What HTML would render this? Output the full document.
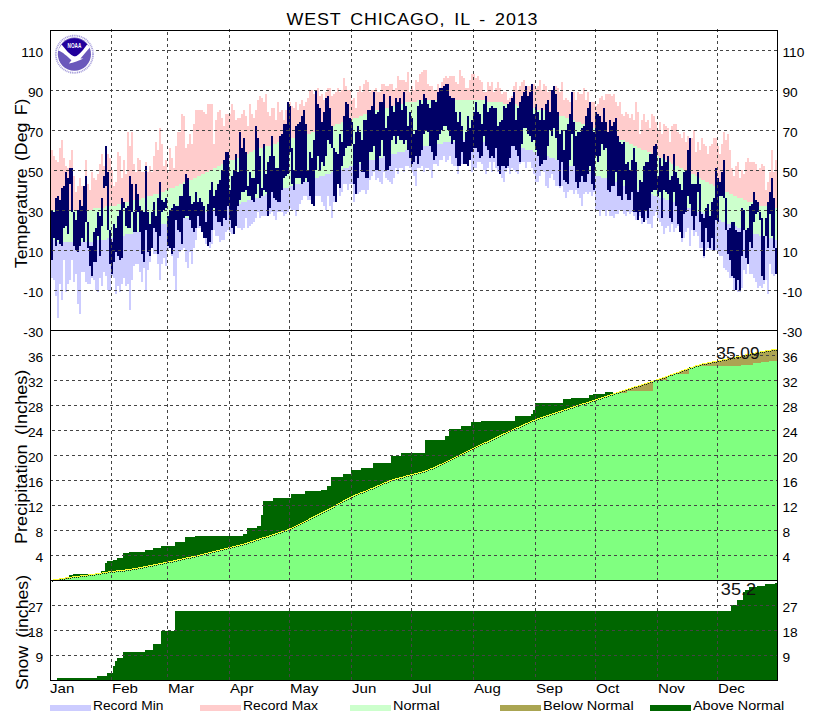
<!DOCTYPE html>
<html><head><meta charset="utf-8"><style>
html,body{margin:0;padding:0;background:#fff;width:827px;height:720px;overflow:hidden}
svg{position:absolute;left:0;top:0;display:block}
text{font-family:"Liberation Sans",sans-serif}
</style></head><body>
<svg width="827" height="720" viewBox="0 0 827 720">
<rect width="827" height="720" fill="#fff"/>
<path d="M51,150h2V210h-2ZM53,156h2V210h-2ZM55,160h2V210h-2ZM57,162h2V210h-2ZM59,148h2V210h-2ZM61,140h2V210h-2ZM63,158h2V210h-2ZM65,166h2V210h-2ZM67,168h2V210h-2ZM69,160h2V210h-2ZM71,150h2V210h-2ZM73,176h2V210h-2ZM75,192h2V210h-2ZM77,186h2V210h-2ZM79,178h2V210h-2ZM81,186h2V210h-2ZM83,186h2V210h-2ZM85,160h2V210h-2ZM87,184h2V210h-2ZM89,190h2V210h-2ZM91,172h2V210h-2ZM93,178h2V208h-2ZM95,180h2V208h-2ZM97,174h2V208h-2ZM99,164h2V208h-2ZM101,154h2V208h-2ZM103,166h2V208h-2ZM105,150h2V206h-2ZM107,154h2V206h-2ZM109,158h2V206h-2ZM111,170h2V206h-2ZM113,186h2V206h-2ZM115,182h2V206h-2ZM117,152h2V204h-2ZM119,156h2V204h-2ZM121,178h2V204h-2ZM123,160h2V204h-2ZM125,174h2V202h-2ZM127,132h2V202h-2ZM129,146h2V202h-2ZM131,132h2V202h-2ZM133,164h2V200h-2ZM135,172h2V200h-2ZM137,158h2V200h-2ZM139,160h2V200h-2ZM141,172h2V198h-2ZM143,172h2V198h-2ZM145,162h2V198h-2ZM147,172h2V196h-2ZM149,166h2V196h-2ZM151,172h2V196h-2ZM153,156h2V194h-2ZM155,142h2V194h-2ZM157,150h2V194h-2ZM159,128h2V192h-2ZM161,144h2V192h-2ZM163,166h2V192h-2ZM165,160h2V190h-2ZM167,172h2V190h-2ZM169,148h2V188h-2ZM171,158h2V188h-2ZM173,168h2V188h-2ZM175,146h2V186h-2ZM177,132h2V186h-2ZM179,132h2V184h-2ZM181,114h2V184h-2ZM183,116h2V182h-2ZM185,148h2V182h-2ZM187,144h2V180h-2ZM189,134h2V180h-2ZM191,144h2V180h-2ZM193,124h2V178h-2ZM195,110h2V178h-2ZM197,110h2V176h-2ZM199,110h2V176h-2ZM201,110h2V174h-2ZM203,112h2V174h-2ZM205,114h2V172h-2ZM207,104h2V172h-2ZM209,104h2V170h-2ZM211,104h2V170h-2ZM213,144h2V168h-2ZM215,120h2V168h-2ZM217,112h2V166h-2ZM219,110h2V166h-2ZM221,118h2V164h-2ZM223,126h2V164h-2ZM225,114h2V162h-2ZM227,114h2V162h-2ZM229,114h2V160h-2ZM231,104h2V160h-2ZM233,110h2V160h-2ZM235,120h2V158h-2ZM237,118h2V158h-2ZM239,118h2V156h-2ZM241,114h2V156h-2ZM243,110h2V154h-2ZM245,116h2V154h-2ZM247,126h2V154h-2ZM249,104h2V152h-2ZM251,114h2V152h-2ZM253,118h2V150h-2ZM255,110h2V150h-2ZM257,100h2V150h-2ZM259,96h2V148h-2ZM261,98h2V148h-2ZM263,102h2V148h-2ZM265,94h2V146h-2ZM267,112h2V146h-2ZM269,116h2V146h-2ZM271,108h2V144h-2ZM273,108h2V144h-2ZM275,120h2V144h-2ZM277,102h2V142h-2ZM279,112h2V142h-2ZM281,110h2V142h-2ZM283,120h2V140h-2ZM285,110h2V140h-2ZM287,102h2V140h-2ZM289,102h2V140h-2ZM291,106h2V138h-2ZM293,108h2V138h-2ZM295,102h2V138h-2ZM297,110h2V136h-2ZM299,104h2V136h-2ZM301,100h2V136h-2ZM303,106h2V136h-2ZM305,102h2V134h-2ZM307,98h2V134h-2ZM309,90h2V134h-2ZM311,90h2V132h-2ZM313,94h2V132h-2ZM315,90h2V132h-2ZM317,88h2V130h-2ZM319,96h2V130h-2ZM321,94h2V130h-2ZM323,100h2V130h-2ZM325,92h2V128h-2ZM327,88h2V128h-2ZM329,88h2V128h-2ZM331,96h2V126h-2ZM333,94h2V126h-2ZM335,92h2V124h-2ZM337,88h2V124h-2ZM339,92h2V124h-2ZM341,90h2V122h-2ZM343,78h2V122h-2ZM345,86h2V122h-2ZM347,90h2V120h-2ZM349,90h2V120h-2ZM351,100h2V120h-2ZM353,98h2V118h-2ZM355,108h2V118h-2ZM357,92h2V118h-2ZM359,86h2V116h-2ZM361,92h2V116h-2ZM363,84h2V114h-2ZM365,80h2V114h-2ZM367,82h2V114h-2ZM369,92h2V112h-2ZM371,90h2V112h-2ZM373,90h2V112h-2ZM375,88h2V110h-2ZM377,92h2V110h-2ZM379,92h2V110h-2ZM381,84h2V108h-2ZM383,84h2V108h-2ZM385,86h2V108h-2ZM387,86h2V108h-2ZM389,84h2V106h-2ZM391,84h2V106h-2ZM393,90h2V106h-2ZM395,88h2V104h-2ZM397,76h2V104h-2ZM399,80h2V104h-2ZM401,80h2V104h-2ZM403,80h2V104h-2ZM405,82h2V102h-2ZM407,72h2V102h-2ZM409,92h2V102h-2ZM411,86h2V102h-2ZM413,90h2V102h-2ZM415,80h2V102h-2ZM417,82h2V100h-2ZM419,74h2V100h-2ZM421,72h2V100h-2ZM423,70h2V100h-2ZM425,70h2V100h-2ZM427,84h2V100h-2ZM429,86h2V100h-2ZM431,86h2V100h-2ZM433,90h2V100h-2ZM435,90h2V100h-2ZM437,84h2V100h-2ZM439,88h2V100h-2ZM441,82h2V100h-2ZM443,78h2V100h-2ZM445,76h2V100h-2ZM447,78h2V100h-2ZM449,76h2V100h-2ZM451,76h2V100h-2ZM453,76h2V100h-2ZM455,82h2V100h-2ZM457,84h2V100h-2ZM459,70h2V100h-2ZM461,76h2V100h-2ZM463,78h2V100h-2ZM465,88h2V100h-2ZM467,88h2V100h-2ZM469,80h2V100h-2ZM471,74h2V100h-2ZM473,74h2V100h-2ZM475,78h2V100h-2ZM477,76h2V100h-2ZM479,80h2V100h-2ZM481,82h2V100h-2ZM483,92h2V100h-2ZM485,92h2V102h-2ZM487,82h2V102h-2ZM489,86h2V102h-2ZM491,82h2V102h-2ZM493,92h2V102h-2ZM495,88h2V102h-2ZM497,82h2V102h-2ZM499,88h2V102h-2ZM501,94h2V102h-2ZM503,92h2V104h-2ZM505,92h2V104h-2ZM507,100h2V104h-2ZM509,98h2V104h-2ZM511,96h2V104h-2ZM513,86h2V104h-2ZM515,82h2V104h-2ZM517,90h2V106h-2ZM519,86h2V106h-2ZM521,82h2V106h-2ZM523,80h2V106h-2ZM525,86h2V106h-2ZM527,86h2V108h-2ZM529,86h2V108h-2ZM531,84h2V108h-2ZM533,84h2V108h-2ZM535,88h2V108h-2ZM537,86h2V110h-2ZM539,80h2V110h-2ZM541,90h2V110h-2ZM543,84h2V110h-2ZM545,86h2V112h-2ZM547,92h2V112h-2ZM549,90h2V112h-2ZM551,90h2V112h-2ZM553,86h2V114h-2ZM555,86h2V114h-2ZM557,88h2V114h-2ZM559,92h2V116h-2ZM561,82h2V116h-2ZM563,100h2V116h-2ZM565,98h2V118h-2ZM567,100h2V118h-2ZM569,102h2V118h-2ZM571,92h2V120h-2ZM573,92h2V120h-2ZM575,100h2V122h-2ZM577,92h2V122h-2ZM579,94h2V122h-2ZM581,94h2V124h-2ZM583,88h2V124h-2ZM585,100h2V124h-2ZM587,92h2V126h-2ZM589,102h2V126h-2ZM591,102h2V128h-2ZM593,102h2V128h-2ZM595,106h2V128h-2ZM597,104h2V130h-2ZM599,98h2V130h-2ZM601,96h2V132h-2ZM603,100h2V132h-2ZM605,94h2V134h-2ZM607,94h2V134h-2ZM609,94h2V134h-2ZM611,96h2V136h-2ZM613,94h2V136h-2ZM615,102h2V138h-2ZM617,106h2V138h-2ZM619,102h2V140h-2ZM621,114h2V140h-2ZM623,116h2V140h-2ZM625,112h2V142h-2ZM627,114h2V142h-2ZM629,118h2V144h-2ZM631,114h2V144h-2ZM633,120h2V146h-2ZM635,102h2V146h-2ZM637,112h2V148h-2ZM639,134h2V148h-2ZM641,120h2V150h-2ZM643,114h2V150h-2ZM645,122h2V150h-2ZM647,120h2V152h-2ZM649,128h2V152h-2ZM651,114h2V154h-2ZM653,116h2V154h-2ZM655,122h2V156h-2ZM657,130h2V156h-2ZM659,122h2V158h-2ZM661,134h2V158h-2ZM663,124h2V160h-2ZM665,126h2V160h-2ZM667,128h2V162h-2ZM669,142h2V162h-2ZM671,126h2V164h-2ZM673,124h2V164h-2ZM675,124h2V166h-2ZM677,132h2V166h-2ZM679,134h2V168h-2ZM681,138h2V168h-2ZM683,132h2V170h-2ZM685,142h2V170h-2ZM687,136h2V172h-2ZM689,138h2V172h-2ZM691,138h2V174h-2ZM693,130h2V174h-2ZM695,152h2V176h-2ZM697,142h2V176h-2ZM699,150h2V178h-2ZM701,138h2V180h-2ZM703,144h2V180h-2ZM705,146h2V182h-2ZM707,154h2V182h-2ZM709,146h2V184h-2ZM711,144h2V184h-2ZM713,138h2V186h-2ZM715,138h2V186h-2ZM717,146h2V188h-2ZM719,154h2V188h-2ZM721,144h2V190h-2ZM723,132h2V190h-2ZM725,140h2V192h-2ZM727,134h2V192h-2ZM729,150h2V194h-2ZM731,168h2V194h-2ZM733,176h2V196h-2ZM735,166h2V196h-2ZM737,162h2V198h-2ZM739,178h2V198h-2ZM741,170h2V198h-2ZM743,174h2V200h-2ZM745,162h2V200h-2ZM747,158h2V202h-2ZM749,162h2V202h-2ZM751,162h2V202h-2ZM753,162h2V204h-2ZM755,164h2V204h-2ZM757,170h2V204h-2ZM759,168h2V206h-2ZM761,164h2V206h-2ZM763,166h2V206h-2ZM765,190h2V206h-2ZM767,182h2V208h-2ZM769,172h2V208h-2ZM771,150h2V208h-2ZM773,172h2V208h-2ZM775,160h2V208h-2Z" fill="#ffcccc" shape-rendering="crispEdges"/>
<path d="M51,210h2V240h-2ZM53,210h2V240h-2ZM55,210h2V240h-2ZM57,210h2V242h-2ZM59,210h2V242h-2ZM61,210h2V242h-2ZM63,210h2V242h-2ZM65,210h2V242h-2ZM67,210h2V242h-2ZM69,210h2V242h-2ZM71,210h2V242h-2ZM73,210h2V242h-2ZM75,210h2V242h-2ZM77,210h2V242h-2ZM79,210h2V242h-2ZM81,210h2V242h-2ZM83,210h2V242h-2ZM85,210h2V242h-2ZM87,210h2V242h-2ZM89,210h2V242h-2ZM91,210h2V242h-2ZM93,208h2V242h-2ZM95,208h2V240h-2ZM97,208h2V240h-2ZM99,208h2V240h-2ZM101,208h2V240h-2ZM103,208h2V240h-2ZM105,206h2V240h-2ZM107,206h2V238h-2ZM109,206h2V238h-2ZM111,206h2V238h-2ZM113,206h2V238h-2ZM115,206h2V238h-2ZM117,204h2V236h-2ZM119,204h2V236h-2ZM121,204h2V236h-2ZM123,204h2V236h-2ZM125,202h2V234h-2ZM127,202h2V234h-2ZM129,202h2V234h-2ZM131,202h2V234h-2ZM133,200h2V232h-2ZM135,200h2V232h-2ZM137,200h2V232h-2ZM139,200h2V232h-2ZM141,198h2V230h-2ZM143,198h2V230h-2ZM145,198h2V230h-2ZM147,196h2V228h-2ZM149,196h2V228h-2ZM151,196h2V228h-2ZM153,194h2V228h-2ZM155,194h2V226h-2ZM157,194h2V226h-2ZM159,192h2V226h-2ZM161,192h2V224h-2ZM163,192h2V224h-2ZM165,190h2V224h-2ZM167,190h2V224h-2ZM169,188h2V222h-2ZM171,188h2V222h-2ZM173,188h2V222h-2ZM175,186h2V220h-2ZM177,186h2V220h-2ZM179,184h2V220h-2ZM181,184h2V220h-2ZM183,182h2V218h-2ZM185,182h2V218h-2ZM187,180h2V218h-2ZM189,180h2V218h-2ZM191,180h2V216h-2ZM193,178h2V216h-2ZM195,178h2V216h-2ZM197,176h2V214h-2ZM199,176h2V214h-2ZM201,174h2V214h-2ZM203,174h2V214h-2ZM205,172h2V212h-2ZM207,172h2V212h-2ZM209,170h2V212h-2ZM211,170h2V210h-2ZM213,168h2V210h-2ZM215,168h2V210h-2ZM217,166h2V210h-2ZM219,166h2V208h-2ZM221,164h2V208h-2ZM223,164h2V208h-2ZM225,162h2V208h-2ZM227,162h2V206h-2ZM229,160h2V206h-2ZM231,160h2V206h-2ZM233,160h2V204h-2ZM235,158h2V204h-2ZM237,158h2V204h-2ZM239,156h2V204h-2ZM241,156h2V202h-2ZM243,154h2V202h-2ZM245,154h2V202h-2ZM247,154h2V200h-2ZM249,152h2V200h-2ZM251,152h2V200h-2ZM253,150h2V198h-2ZM255,150h2V198h-2ZM257,150h2V198h-2ZM259,148h2V196h-2ZM261,148h2V196h-2ZM263,148h2V196h-2ZM265,146h2V194h-2ZM267,146h2V194h-2ZM269,146h2V194h-2ZM271,144h2V192h-2ZM273,144h2V192h-2ZM275,144h2V192h-2ZM277,142h2V190h-2ZM279,142h2V190h-2ZM281,142h2V190h-2ZM283,140h2V188h-2ZM285,140h2V188h-2ZM287,140h2V188h-2ZM289,140h2V186h-2ZM291,138h2V186h-2ZM293,138h2V186h-2ZM295,138h2V184h-2ZM297,136h2V184h-2ZM299,136h2V184h-2ZM301,136h2V182h-2ZM303,136h2V182h-2ZM305,134h2V182h-2ZM307,134h2V180h-2ZM309,134h2V180h-2ZM311,132h2V180h-2ZM313,132h2V178h-2ZM315,132h2V178h-2ZM317,130h2V178h-2ZM319,130h2V176h-2ZM321,130h2V176h-2ZM323,130h2V176h-2ZM325,128h2V174h-2ZM327,128h2V174h-2ZM329,128h2V174h-2ZM331,126h2V172h-2ZM333,126h2V172h-2ZM335,124h2V172h-2ZM337,124h2V170h-2ZM339,124h2V170h-2ZM341,122h2V170h-2ZM343,122h2V168h-2ZM345,122h2V168h-2ZM347,120h2V168h-2ZM349,120h2V166h-2ZM351,120h2V166h-2ZM353,118h2V166h-2ZM355,118h2V164h-2ZM357,118h2V164h-2ZM359,116h2V164h-2ZM361,116h2V164h-2ZM363,114h2V162h-2ZM365,114h2V162h-2ZM367,114h2V162h-2ZM369,112h2V160h-2ZM371,112h2V160h-2ZM373,112h2V160h-2ZM375,110h2V158h-2ZM377,110h2V158h-2ZM379,110h2V158h-2ZM381,108h2V158h-2ZM383,108h2V156h-2ZM385,108h2V156h-2ZM387,108h2V156h-2ZM389,106h2V154h-2ZM391,106h2V154h-2ZM393,106h2V154h-2ZM395,104h2V154h-2ZM397,104h2V152h-2ZM399,104h2V152h-2ZM401,104h2V152h-2ZM403,104h2V152h-2ZM405,102h2V150h-2ZM407,102h2V150h-2ZM409,102h2V150h-2ZM411,102h2V150h-2ZM413,102h2V148h-2ZM415,102h2V148h-2ZM417,100h2V148h-2ZM419,100h2V148h-2ZM421,100h2V146h-2ZM423,100h2V146h-2ZM425,100h2V146h-2ZM427,100h2V146h-2ZM429,100h2V146h-2ZM431,100h2V144h-2ZM433,100h2V144h-2ZM435,100h2V144h-2ZM437,100h2V144h-2ZM439,100h2V144h-2ZM441,100h2V144h-2ZM443,100h2V142h-2ZM445,100h2V142h-2ZM447,100h2V142h-2ZM449,100h2V142h-2ZM451,100h2V142h-2ZM453,100h2V142h-2ZM455,100h2V142h-2ZM457,100h2V142h-2ZM459,100h2V142h-2ZM461,100h2V140h-2ZM463,100h2V140h-2ZM465,100h2V140h-2ZM467,100h2V140h-2ZM469,100h2V140h-2ZM471,100h2V140h-2ZM473,100h2V140h-2ZM475,100h2V140h-2ZM477,100h2V140h-2ZM479,100h2V140h-2ZM481,100h2V140h-2ZM483,100h2V142h-2ZM485,102h2V142h-2ZM487,102h2V142h-2ZM489,102h2V142h-2ZM491,102h2V142h-2ZM493,102h2V142h-2ZM495,102h2V142h-2ZM497,102h2V142h-2ZM499,102h2V142h-2ZM501,102h2V144h-2ZM503,104h2V144h-2ZM505,104h2V144h-2ZM507,104h2V144h-2ZM509,104h2V144h-2ZM511,104h2V146h-2ZM513,104h2V146h-2ZM515,104h2V146h-2ZM517,106h2V146h-2ZM519,106h2V148h-2ZM521,106h2V148h-2ZM523,106h2V148h-2ZM525,106h2V150h-2ZM527,108h2V150h-2ZM529,108h2V150h-2ZM531,108h2V150h-2ZM533,108h2V152h-2ZM535,108h2V152h-2ZM537,110h2V152h-2ZM539,110h2V154h-2ZM541,110h2V154h-2ZM543,110h2V156h-2ZM545,112h2V156h-2ZM547,112h2V156h-2ZM549,112h2V158h-2ZM551,112h2V158h-2ZM553,114h2V158h-2ZM555,114h2V160h-2ZM557,114h2V160h-2ZM559,116h2V162h-2ZM561,116h2V162h-2ZM563,116h2V162h-2ZM565,118h2V164h-2ZM567,118h2V164h-2ZM569,118h2V166h-2ZM571,120h2V166h-2ZM573,120h2V166h-2ZM575,122h2V168h-2ZM577,122h2V168h-2ZM579,122h2V170h-2ZM581,124h2V170h-2ZM583,124h2V170h-2ZM585,124h2V172h-2ZM587,126h2V172h-2ZM589,126h2V172h-2ZM591,128h2V174h-2ZM593,128h2V174h-2ZM595,128h2V176h-2ZM597,130h2V176h-2ZM599,130h2V176h-2ZM601,132h2V178h-2ZM603,132h2V178h-2ZM605,134h2V178h-2ZM607,134h2V180h-2ZM609,134h2V180h-2ZM611,136h2V182h-2ZM613,136h2V182h-2ZM615,138h2V182h-2ZM617,138h2V184h-2ZM619,140h2V184h-2ZM621,140h2V184h-2ZM623,140h2V186h-2ZM625,142h2V186h-2ZM627,142h2V186h-2ZM629,144h2V188h-2ZM631,144h2V188h-2ZM633,146h2V188h-2ZM635,146h2V190h-2ZM637,148h2V190h-2ZM639,148h2V190h-2ZM641,150h2V192h-2ZM643,150h2V192h-2ZM645,150h2V192h-2ZM647,152h2V194h-2ZM649,152h2V194h-2ZM651,154h2V194h-2ZM653,154h2V196h-2ZM655,156h2V196h-2ZM657,156h2V196h-2ZM659,158h2V198h-2ZM661,158h2V198h-2ZM663,160h2V198h-2ZM665,160h2V200h-2ZM667,162h2V200h-2ZM669,162h2V200h-2ZM671,164h2V202h-2ZM673,164h2V202h-2ZM675,166h2V202h-2ZM677,166h2V204h-2ZM679,168h2V204h-2ZM681,168h2V204h-2ZM683,170h2V206h-2ZM685,170h2V206h-2ZM687,172h2V208h-2ZM689,172h2V208h-2ZM691,174h2V208h-2ZM693,174h2V210h-2ZM695,176h2V210h-2ZM697,176h2V212h-2ZM699,178h2V212h-2ZM701,180h2V212h-2ZM703,180h2V214h-2ZM705,182h2V214h-2ZM707,182h2V216h-2ZM709,184h2V216h-2ZM711,184h2V216h-2ZM713,186h2V218h-2ZM715,186h2V218h-2ZM717,188h2V220h-2ZM719,188h2V220h-2ZM721,190h2V222h-2ZM723,190h2V222h-2ZM725,192h2V222h-2ZM727,192h2V224h-2ZM729,194h2V224h-2ZM731,194h2V226h-2ZM733,196h2V226h-2ZM735,196h2V226h-2ZM737,198h2V228h-2ZM739,198h2V228h-2ZM741,198h2V228h-2ZM743,200h2V230h-2ZM745,200h2V230h-2ZM747,202h2V232h-2ZM749,202h2V232h-2ZM751,202h2V232h-2ZM753,204h2V234h-2ZM755,204h2V234h-2ZM757,204h2V234h-2ZM759,206h2V236h-2ZM761,206h2V236h-2ZM763,206h2V236h-2ZM765,206h2V236h-2ZM767,208h2V238h-2ZM769,208h2V238h-2ZM771,208h2V238h-2ZM773,208h2V238h-2ZM775,208h2V240h-2Z" fill="#ccffcc" shape-rendering="crispEdges"/>
<path d="M51,240h2V278h-2ZM53,240h2V280h-2ZM55,240h2V296h-2ZM57,242h2V318h-2ZM59,242h2V284h-2ZM61,242h2V300h-2ZM63,242h2V260h-2ZM65,242h2V292h-2ZM67,242h2V284h-2ZM69,242h2V280h-2ZM71,242h2V260h-2ZM73,242h2V282h-2ZM75,242h2V274h-2ZM77,242h2V304h-2ZM79,242h2V314h-2ZM81,242h2V272h-2ZM83,242h2V272h-2ZM85,242h2V282h-2ZM87,242h2V284h-2ZM89,242h2V284h-2ZM91,242h2V278h-2ZM93,242h2V280h-2ZM95,240h2V290h-2ZM97,240h2V292h-2ZM99,240h2V278h-2ZM101,240h2V286h-2ZM103,240h2V272h-2ZM105,240h2V276h-2ZM107,238h2V290h-2ZM109,238h2V290h-2ZM111,238h2V276h-2ZM113,238h2V278h-2ZM115,238h2V294h-2ZM117,236h2V286h-2ZM119,236h2V292h-2ZM121,236h2V284h-2ZM123,236h2V278h-2ZM125,234h2V286h-2ZM127,234h2V284h-2ZM129,234h2V310h-2ZM131,234h2V280h-2ZM133,232h2V266h-2ZM135,232h2V264h-2ZM137,232h2V264h-2ZM139,232h2V272h-2ZM141,230h2V282h-2ZM143,230h2V268h-2ZM145,230h2V290h-2ZM147,228h2V270h-2ZM149,228h2V262h-2ZM151,228h2V248h-2ZM153,228h2V254h-2ZM155,226h2V254h-2ZM157,226h2V264h-2ZM159,226h2V280h-2ZM161,224h2V264h-2ZM163,224h2V258h-2ZM165,224h2V266h-2ZM167,224h2V250h-2ZM169,222h2V248h-2ZM171,222h2V256h-2ZM173,222h2V276h-2ZM175,220h2V290h-2ZM177,220h2V258h-2ZM179,220h2V252h-2ZM181,220h2V250h-2ZM183,218h2V248h-2ZM185,218h2V262h-2ZM187,218h2V268h-2ZM189,218h2V252h-2ZM191,216h2V264h-2ZM193,216h2V248h-2ZM195,216h2V240h-2ZM197,214h2V228h-2ZM199,214h2V228h-2ZM201,214h2V230h-2ZM203,214h2V238h-2ZM205,212h2V244h-2ZM207,212h2V246h-2ZM209,212h2V248h-2ZM211,210h2V244h-2ZM213,210h2V230h-2ZM215,210h2V236h-2ZM217,210h2V236h-2ZM219,208h2V242h-2ZM221,208h2V240h-2ZM223,208h2V240h-2ZM225,208h2V232h-2ZM227,206h2V230h-2ZM229,206h2V232h-2ZM231,206h2V234h-2ZM233,204h2V234h-2ZM235,204h2V226h-2ZM237,204h2V228h-2ZM239,204h2V228h-2ZM241,202h2V230h-2ZM243,202h2V228h-2ZM245,202h2V218h-2ZM247,200h2V228h-2ZM249,200h2V226h-2ZM251,200h2V224h-2ZM253,198h2V222h-2ZM255,198h2V218h-2ZM257,198h2V212h-2ZM259,196h2V218h-2ZM261,196h2V216h-2ZM263,196h2V216h-2ZM265,194h2V216h-2ZM267,194h2V216h-2ZM269,194h2V214h-2ZM271,192h2V212h-2ZM273,192h2V216h-2ZM275,192h2V220h-2ZM277,190h2V212h-2ZM279,190h2V212h-2ZM281,190h2V212h-2ZM283,188h2V216h-2ZM285,188h2V214h-2ZM287,188h2V212h-2ZM289,186h2V208h-2ZM291,186h2V210h-2ZM293,186h2V210h-2ZM295,184h2V216h-2ZM297,184h2V210h-2ZM299,184h2V204h-2ZM301,182h2V200h-2ZM303,182h2V196h-2ZM305,182h2V196h-2ZM307,180h2V200h-2ZM309,180h2V200h-2ZM311,180h2V202h-2ZM313,178h2V206h-2ZM315,178h2V196h-2ZM317,178h2V196h-2ZM319,176h2V196h-2ZM321,176h2V202h-2ZM323,176h2V206h-2ZM325,174h2V210h-2ZM327,174h2V196h-2ZM329,174h2V206h-2ZM331,172h2V218h-2ZM333,172h2V202h-2ZM335,172h2V202h-2ZM337,170h2V184h-2ZM339,170h2V196h-2ZM341,170h2V192h-2ZM343,168h2V184h-2ZM345,168h2V184h-2ZM347,168h2V190h-2ZM349,166h2V184h-2ZM351,166h2V184h-2ZM353,166h2V202h-2ZM355,164h2V194h-2ZM357,164h2V194h-2ZM359,164h2V192h-2ZM361,164h2V190h-2ZM363,162h2V190h-2ZM365,162h2V194h-2ZM367,162h2V190h-2ZM369,160h2V180h-2ZM371,160h2V176h-2ZM373,160h2V172h-2ZM375,158h2V180h-2ZM377,158h2V178h-2ZM379,158h2V182h-2ZM381,158h2V184h-2ZM383,156h2V172h-2ZM385,156h2V178h-2ZM387,156h2V180h-2ZM389,154h2V182h-2ZM391,154h2V184h-2ZM393,154h2V178h-2ZM395,154h2V168h-2ZM397,152h2V174h-2ZM399,152h2V168h-2ZM401,152h2V168h-2ZM403,152h2V172h-2ZM405,150h2V166h-2ZM407,150h2V166h-2ZM409,150h2V168h-2ZM411,150h2V172h-2ZM413,148h2V176h-2ZM415,148h2V186h-2ZM417,148h2V168h-2ZM419,148h2V168h-2ZM421,146h2V166h-2ZM423,146h2V172h-2ZM425,146h2V168h-2ZM427,146h2V168h-2ZM429,146h2V170h-2ZM431,144h2V178h-2ZM433,144h2V164h-2ZM435,144h2V164h-2ZM437,144h2V166h-2ZM439,144h2V160h-2ZM441,144h2V160h-2ZM443,142h2V156h-2ZM445,142h2V162h-2ZM447,142h2V160h-2ZM449,142h2V156h-2ZM451,142h2V164h-2ZM453,142h2V166h-2ZM455,142h2V166h-2ZM457,142h2V174h-2ZM459,142h2V166h-2ZM461,140h2V164h-2ZM463,140h2V164h-2ZM465,140h2V164h-2ZM467,140h2V166h-2ZM469,140h2V160h-2ZM471,140h2V172h-2ZM473,140h2V168h-2ZM475,140h2V168h-2ZM477,140h2V162h-2ZM479,140h2V162h-2ZM481,140h2V164h-2ZM483,142h2V170h-2ZM485,142h2V174h-2ZM487,142h2V168h-2ZM489,142h2V162h-2ZM491,142h2V172h-2ZM493,142h2V162h-2ZM495,142h2V168h-2ZM497,142h2V172h-2ZM499,142h2V174h-2ZM501,144h2V178h-2ZM503,144h2V182h-2ZM505,144h2V172h-2ZM507,144h2V168h-2ZM509,144h2V174h-2ZM511,146h2V168h-2ZM513,146h2V170h-2ZM515,146h2V172h-2ZM517,146h2V174h-2ZM519,148h2V164h-2ZM521,148h2V162h-2ZM523,148h2V162h-2ZM525,150h2V168h-2ZM527,150h2V162h-2ZM529,150h2V162h-2ZM531,150h2V168h-2ZM533,152h2V174h-2ZM535,152h2V182h-2ZM537,152h2V182h-2ZM539,154h2V176h-2ZM541,154h2V170h-2ZM543,156h2V172h-2ZM545,156h2V186h-2ZM547,156h2V188h-2ZM549,158h2V178h-2ZM551,158h2V174h-2ZM553,158h2V180h-2ZM555,160h2V186h-2ZM557,160h2V186h-2ZM559,162h2V188h-2ZM561,162h2V186h-2ZM563,162h2V192h-2ZM565,164h2V198h-2ZM567,164h2V192h-2ZM569,166h2V190h-2ZM571,166h2V190h-2ZM573,166h2V194h-2ZM575,168h2V190h-2ZM577,168h2V194h-2ZM579,170h2V198h-2ZM581,170h2V206h-2ZM583,170h2V194h-2ZM585,172h2V192h-2ZM587,172h2V194h-2ZM589,172h2V192h-2ZM591,174h2V196h-2ZM593,174h2V192h-2ZM595,176h2V210h-2ZM597,176h2V210h-2ZM599,176h2V216h-2ZM601,178h2V210h-2ZM603,178h2V210h-2ZM605,178h2V216h-2ZM607,180h2V210h-2ZM609,180h2V216h-2ZM611,182h2V216h-2ZM613,182h2V218h-2ZM615,182h2V214h-2ZM617,184h2V214h-2ZM619,184h2V210h-2ZM621,184h2V210h-2ZM623,186h2V214h-2ZM625,186h2V216h-2ZM627,186h2V212h-2ZM629,188h2V214h-2ZM631,188h2V212h-2ZM633,188h2V216h-2ZM635,190h2V220h-2ZM637,190h2V220h-2ZM639,190h2V216h-2ZM641,192h2V224h-2ZM643,192h2V222h-2ZM645,192h2V220h-2ZM647,194h2V224h-2ZM649,194h2V224h-2ZM651,194h2V228h-2ZM653,196h2V216h-2ZM655,196h2V212h-2ZM657,196h2V218h-2ZM659,198h2V222h-2ZM661,198h2V226h-2ZM663,198h2V234h-2ZM665,200h2V228h-2ZM667,200h2V226h-2ZM669,200h2V232h-2ZM671,202h2V224h-2ZM673,202h2V232h-2ZM675,202h2V228h-2ZM677,204h2V226h-2ZM679,204h2V232h-2ZM681,204h2V242h-2ZM683,206h2V238h-2ZM685,206h2V232h-2ZM687,208h2V228h-2ZM689,208h2V246h-2ZM691,208h2V230h-2ZM693,210h2V236h-2ZM695,210h2V232h-2ZM697,212h2V236h-2ZM699,212h2V248h-2ZM701,212h2V248h-2ZM703,214h2V258h-2ZM705,214h2V250h-2ZM707,216h2V248h-2ZM709,216h2V250h-2ZM711,216h2V250h-2ZM713,218h2V250h-2ZM715,218h2V250h-2ZM717,220h2V254h-2ZM719,220h2V256h-2ZM721,222h2V256h-2ZM723,222h2V268h-2ZM725,222h2V270h-2ZM727,224h2V272h-2ZM729,224h2V278h-2ZM731,226h2V278h-2ZM733,226h2V290h-2ZM735,226h2V290h-2ZM737,228h2V292h-2ZM739,228h2V292h-2ZM741,228h2V288h-2ZM743,230h2V270h-2ZM745,230h2V274h-2ZM747,232h2V264h-2ZM749,232h2V274h-2ZM751,232h2V274h-2ZM753,234h2V278h-2ZM755,234h2V282h-2ZM757,234h2V288h-2ZM759,236h2V286h-2ZM761,236h2V288h-2ZM763,236h2V284h-2ZM765,236h2V280h-2ZM767,238h2V294h-2ZM769,238h2V264h-2ZM771,238h2V274h-2ZM773,238h2V276h-2ZM775,240h2V274h-2Z" fill="#ccccff" shape-rendering="crispEdges"/>
<path d="M51,210h2V260h-2ZM53,212h2V238h-2ZM55,198h2V246h-2ZM57,196h2V240h-2ZM59,200h2V244h-2ZM61,188h2V246h-2ZM63,186h2V228h-2ZM65,172h2V226h-2ZM67,178h2V234h-2ZM69,168h2V184h-2ZM71,168h2V212h-2ZM73,212h2V246h-2ZM75,220h2V250h-2ZM77,210h2V252h-2ZM79,200h2V246h-2ZM81,206h2V238h-2ZM83,186h2V242h-2ZM85,176h2V222h-2ZM87,222h2V248h-2ZM89,246h2V266h-2ZM91,246h2V276h-2ZM93,232h2V262h-2ZM95,228h2V262h-2ZM97,212h2V236h-2ZM99,216h2V256h-2ZM101,198h2V226h-2ZM103,176h2V188h-2ZM105,146h2V186h-2ZM107,172h2V230h-2ZM109,230h2V264h-2ZM111,242h2V274h-2ZM113,224h2V262h-2ZM115,228h2V252h-2ZM117,216h2V256h-2ZM119,210h2V260h-2ZM121,198h2V258h-2ZM123,202h2V208h-2ZM125,208h2V226h-2ZM127,206h2V228h-2ZM129,176h2V228h-2ZM131,184h2V212h-2ZM133,212h2V232h-2ZM135,184h2V232h-2ZM137,194h2V212h-2ZM139,206h2V232h-2ZM141,210h2V254h-2ZM143,212h2V262h-2ZM145,166h2V230h-2ZM147,212h2V252h-2ZM149,224h2V256h-2ZM151,212h2V248h-2ZM153,202h2V228h-2ZM155,216h2V232h-2ZM157,198h2V254h-2ZM159,182h2V236h-2ZM161,200h2V212h-2ZM163,202h2V210h-2ZM165,198h2V208h-2ZM167,216h2V246h-2ZM169,210h2V248h-2ZM171,208h2V254h-2ZM173,204h2V248h-2ZM175,206h2V220h-2ZM177,206h2V230h-2ZM179,196h2V232h-2ZM181,196h2V244h-2ZM183,184h2V218h-2ZM185,174h2V216h-2ZM187,178h2V216h-2ZM189,196h2V220h-2ZM191,204h2V228h-2ZM193,202h2V232h-2ZM195,192h2V228h-2ZM197,202h2V216h-2ZM199,198h2V226h-2ZM201,202h2V232h-2ZM203,206h2V238h-2ZM205,222h2V238h-2ZM207,204h2V246h-2ZM209,190h2V242h-2ZM211,182h2V230h-2ZM213,196h2V208h-2ZM215,190h2V216h-2ZM217,184h2V222h-2ZM219,180h2V222h-2ZM221,170h2V226h-2ZM223,160h2V218h-2ZM225,152h2V220h-2ZM227,152h2V206h-2ZM229,190h2V220h-2ZM231,176h2V228h-2ZM233,170h2V234h-2ZM235,154h2V226h-2ZM237,172h2V206h-2ZM239,132h2V200h-2ZM241,148h2V192h-2ZM243,138h2V192h-2ZM245,152h2V190h-2ZM247,186h2V196h-2ZM249,172h2V196h-2ZM251,178h2V200h-2ZM253,178h2V202h-2ZM255,126h2V194h-2ZM257,138h2V184h-2ZM259,156h2V198h-2ZM261,188h2V196h-2ZM263,144h2V190h-2ZM265,174h2V192h-2ZM267,162h2V216h-2ZM269,156h2V208h-2ZM271,136h2V192h-2ZM273,156h2V198h-2ZM275,168h2V200h-2ZM277,168h2V202h-2ZM279,136h2V202h-2ZM281,134h2V190h-2ZM283,124h2V178h-2ZM285,124h2V176h-2ZM287,102h2V174h-2ZM289,106h2V152h-2ZM291,148h2V184h-2ZM293,170h2V190h-2ZM295,126h2V178h-2ZM297,124h2V178h-2ZM299,122h2V178h-2ZM301,116h2V184h-2ZM303,110h2V182h-2ZM305,124h2V178h-2ZM307,170h2V182h-2ZM309,152h2V196h-2ZM311,158h2V204h-2ZM313,140h2V206h-2ZM315,90h2V170h-2ZM317,104h2V156h-2ZM319,108h2V170h-2ZM321,122h2V162h-2ZM323,112h2V166h-2ZM325,98h2V156h-2ZM327,96h2V140h-2ZM329,108h2V144h-2ZM331,126h2V148h-2ZM333,148h2V196h-2ZM335,152h2V202h-2ZM337,154h2V184h-2ZM339,134h2V188h-2ZM341,142h2V166h-2ZM343,116h2V156h-2ZM345,102h2V148h-2ZM347,104h2V146h-2ZM349,118h2V146h-2ZM351,122h2V144h-2ZM353,144h2V184h-2ZM355,132h2V194h-2ZM357,126h2V178h-2ZM359,132h2V162h-2ZM361,140h2V172h-2ZM363,120h2V172h-2ZM365,120h2V178h-2ZM367,110h2V178h-2ZM369,110h2V152h-2ZM371,106h2V152h-2ZM373,92h2V146h-2ZM375,114h2V170h-2ZM377,112h2V170h-2ZM379,102h2V156h-2ZM381,102h2V140h-2ZM383,94h2V156h-2ZM385,128h2V170h-2ZM387,116h2V170h-2ZM389,96h2V166h-2ZM391,106h2V140h-2ZM393,112h2V136h-2ZM395,98h2V144h-2ZM397,102h2V136h-2ZM399,98h2V140h-2ZM401,110h2V140h-2ZM403,92h2V144h-2ZM405,106h2V140h-2ZM407,126h2V150h-2ZM409,112h2V158h-2ZM411,118h2V164h-2ZM413,134h2V162h-2ZM415,130h2V156h-2ZM417,106h2V164h-2ZM419,100h2V156h-2ZM421,104h2V150h-2ZM423,94h2V134h-2ZM425,98h2V130h-2ZM427,104h2V132h-2ZM429,108h2V146h-2ZM431,100h2V152h-2ZM433,100h2V160h-2ZM435,102h2V156h-2ZM437,92h2V140h-2ZM439,88h2V134h-2ZM441,88h2V130h-2ZM443,86h2V126h-2ZM445,84h2V126h-2ZM447,84h2V130h-2ZM449,96h2V136h-2ZM451,98h2V144h-2ZM453,98h2V140h-2ZM455,112h2V158h-2ZM457,122h2V166h-2ZM459,112h2V166h-2ZM461,126h2V152h-2ZM463,142h2V164h-2ZM465,132h2V164h-2ZM467,116h2V166h-2ZM469,128h2V160h-2ZM471,120h2V152h-2ZM473,112h2V148h-2ZM475,102h2V148h-2ZM477,112h2V152h-2ZM479,114h2V158h-2ZM481,124h2V156h-2ZM483,104h2V136h-2ZM485,96h2V146h-2ZM487,112h2V150h-2ZM489,108h2V158h-2ZM491,106h2V156h-2ZM493,108h2V158h-2ZM495,108h2V148h-2ZM497,126h2V166h-2ZM499,122h2V174h-2ZM501,120h2V166h-2ZM503,106h2V166h-2ZM505,108h2V168h-2ZM507,104h2V166h-2ZM509,102h2V158h-2ZM511,98h2V146h-2ZM513,92h2V146h-2ZM515,120h2V150h-2ZM517,108h2V156h-2ZM519,102h2V162h-2ZM521,96h2V144h-2ZM523,92h2V128h-2ZM525,86h2V128h-2ZM527,96h2V134h-2ZM529,92h2V136h-2ZM531,84h2V142h-2ZM533,114h2V140h-2ZM535,104h2V150h-2ZM537,112h2V156h-2ZM539,120h2V166h-2ZM541,108h2V164h-2ZM543,120h2V160h-2ZM545,104h2V160h-2ZM547,100h2V146h-2ZM549,112h2V130h-2ZM551,90h2V136h-2ZM553,86h2V128h-2ZM555,94h2V138h-2ZM557,112h2V160h-2ZM559,134h2V186h-2ZM561,130h2V162h-2ZM563,150h2V180h-2ZM565,130h2V182h-2ZM567,124h2V184h-2ZM569,114h2V160h-2ZM571,92h2V134h-2ZM573,122h2V166h-2ZM575,136h2V182h-2ZM577,132h2V188h-2ZM579,132h2V182h-2ZM581,128h2V176h-2ZM583,126h2V182h-2ZM585,116h2V182h-2ZM587,108h2V174h-2ZM589,102h2V166h-2ZM591,122h2V184h-2ZM593,132h2V190h-2ZM595,112h2V156h-2ZM597,114h2V162h-2ZM599,116h2V156h-2ZM601,122h2V144h-2ZM603,108h2V150h-2ZM605,122h2V148h-2ZM607,132h2V190h-2ZM609,120h2V192h-2ZM611,126h2V186h-2ZM613,122h2V186h-2ZM615,118h2V172h-2ZM617,136h2V196h-2ZM619,142h2V196h-2ZM621,144h2V200h-2ZM623,142h2V180h-2ZM625,164h2V194h-2ZM627,162h2V200h-2ZM629,170h2V200h-2ZM631,160h2V192h-2ZM633,148h2V212h-2ZM635,162h2V212h-2ZM637,192h2V220h-2ZM639,180h2V212h-2ZM641,182h2V218h-2ZM643,166h2V222h-2ZM645,162h2V210h-2ZM647,162h2V218h-2ZM649,154h2V208h-2ZM651,154h2V192h-2ZM653,146h2V190h-2ZM655,144h2V190h-2ZM657,176h2V196h-2ZM659,158h2V192h-2ZM661,166h2V218h-2ZM663,154h2V190h-2ZM665,162h2V192h-2ZM667,156h2V194h-2ZM669,180h2V218h-2ZM671,176h2V222h-2ZM673,154h2V192h-2ZM675,172h2V206h-2ZM677,178h2V224h-2ZM679,184h2V232h-2ZM681,190h2V238h-2ZM683,172h2V214h-2ZM685,170h2V212h-2ZM687,150h2V196h-2ZM689,138h2V204h-2ZM691,184h2V216h-2ZM693,184h2V230h-2ZM695,184h2V216h-2ZM697,172h2V192h-2ZM699,184h2V222h-2ZM701,214h2V242h-2ZM703,218h2V256h-2ZM705,208h2V228h-2ZM707,204h2V242h-2ZM709,216h2V248h-2ZM711,202h2V238h-2ZM713,198h2V250h-2ZM715,168h2V220h-2ZM717,178h2V222h-2ZM719,182h2V196h-2ZM721,172h2V196h-2ZM723,160h2V198h-2ZM725,198h2V230h-2ZM727,230h2V254h-2ZM729,228h2V260h-2ZM731,222h2V276h-2ZM733,222h2V278h-2ZM735,230h2V290h-2ZM737,232h2V280h-2ZM739,232h2V290h-2ZM741,208h2V256h-2ZM743,210h2V230h-2ZM745,230h2V258h-2ZM747,228h2V264h-2ZM749,206h2V242h-2ZM751,204h2V248h-2ZM753,192h2V222h-2ZM755,200h2V214h-2ZM757,202h2V212h-2ZM759,212h2V220h-2ZM761,218h2V276h-2ZM763,236h2V280h-2ZM765,218h2V236h-2ZM767,202h2V248h-2ZM769,192h2V214h-2ZM771,178h2V236h-2ZM773,198h2V248h-2ZM775,248h2V274h-2Z" fill="#000066" shape-rendering="crispEdges"/>
<path d="M50,580 L50,579.5 L61,579.5 L61,578.5 L69,578.5 L69,575.0 L73,575.0 L73,574.0 L101,574.0 L101,571.0 L105,571.0 L105,563.0 L107,563.0 L107,561.0 L113,561.0 L113,560.0 L117,560.0 L117,558.0 L123,558.0 L123,553.0 L129,553.0 L129,552.0 L145,552.0 L145,550.0 L153,550.0 L153,548.0 L161,548.0 L161,546.0 L175,546.0 L175,542.0 L185,542.0 L185,537.0 L195,537.0 L195,536.0 L243,536.0 L243,533.5 L247,533.5 L247,527.5 L257,527.5 L257,525.5 L261,525.5 L261,515.0 L263,515.0 L263,500.5 L273,500.5 L273,497.5 L291,497.5 L291,493.5 L305,493.5 L305,491.0 L321,491.0 L321,490.0 L327,490.0 L327,486.0 L331,486.0 L331,476.5 L343,476.5 L343,473.5 L351,473.5 L351,470.0 L361,470.0 L361,467.5 L373,467.5 L373,463.0 L391,463.0 L391,456.0 L401,456.0 L401,452.5 L425,452.5 L425,440.0 L445,440.0 L445,435.5 L449,435.5 L449,429.0 L461,429.0 L461,425.5 L471,425.5 L471,422.0 L481,422.0 L481,421.0 L515,421.0 L515,416.0 L531,416.0 L531,414.0 L533,414.0 L533,409.5 L535,409.5 L535,403.0 L563,403.0 L563,399.0 L571,399.0 L571,398.0 L585,398.0 L585,397.5 L589,397.5 L589,395.0 L593,395.0 L593,394.0 L605,394.0 L605,392.0 L613,392.0 L613,392.5 L627,392.5 L627,391.0 L637,391.0 L637,390.5 L653,390.5 L653,380.5 L655,380.5 L655,380.0 L667,380.0 L667,375.5 L673,375.5 L673,374.0 L689,374.0 L689,367.0 L697,367.0 L697,365.5 L741,365.5 L741,364.5 L753,364.5 L753,362.5 L761,362.5 L761,361.5 L769,361.5 L769,361.0 L777,361.0 L777,580 Z" fill="#006600" shape-rendering="crispEdges"/>
<path d="M50,580 L52,580.0 L52,579.5 L54,579.5 L54,579.0 L58,579.0 L58,578.5 L60,578.5 L60,578.0 L64,578.0 L64,577.5 L67,577.5 L67,577.0 L70,577.0 L70,576.5 L74,576.5 L74,576.0 L78,576.0 L78,575.5 L82,575.5 L82,575.0 L86,575.0 L86,574.5 L90,574.5 L90,574.0 L94,574.0 L94,573.5 L97,573.5 L97,573.0 L100,573.0 L100,572.5 L103,572.5 L103,572.0 L107,572.0 L107,571.5 L110,571.5 L110,571.0 L114,571.0 L114,570.5 L118,570.5 L118,570.0 L123,570.0 L123,569.5 L127,569.5 L127,569.0 L131,569.0 L131,568.5 L134,568.5 L134,568.0 L136,568.0 L136,567.5 L139,567.5 L139,567.0 L142,567.0 L142,566.5 L144,566.5 L144,566.0 L147,566.0 L147,565.5 L149,565.5 L149,565.0 L152,565.0 L152,564.5 L154,564.5 L154,564.0 L157,564.0 L157,563.5 L160,563.5 L160,563.0 L162,563.0 L162,562.5 L165,562.5 L165,562.0 L167,562.0 L167,561.5 L169,561.5 L169,561.0 L172,561.0 L172,560.5 L174,560.5 L174,560.0 L176,560.0 L176,559.5 L179,559.5 L179,559.0 L181,559.0 L181,558.5 L183,558.5 L183,558.0 L185,558.0 L185,557.5 L188,557.5 L188,557.0 L190,557.0 L190,556.5 L192,556.5 L192,556.0 L194,556.0 L194,555.5 L197,555.5 L197,555.0 L199,555.0 L199,554.5 L201,554.5 L201,554.0 L203,554.0 L203,553.5 L205,553.5 L205,553.0 L207,553.0 L207,552.5 L209,552.5 L209,552.0 L211,552.0 L211,551.5 L213,551.5 L213,551.0 L215,551.0 L215,550.5 L217,550.5 L217,550.0 L219,550.0 L219,549.5 L221,549.5 L221,549.0 L223,549.0 L223,548.5 L225,548.5 L225,548.0 L227,548.0 L227,547.5 L229,547.5 L229,547.0 L231,547.0 L231,546.5 L233,546.5 L233,546.0 L235,546.0 L235,545.5 L237,545.5 L237,545.0 L239,545.0 L239,544.5 L241,544.5 L241,544.0 L243,544.0 L243,543.5 L244,543.5 L244,543.0 L246,543.0 L246,542.5 L248,542.5 L248,542.0 L249,542.0 L249,541.5 L251,541.5 L251,541.0 L253,541.0 L253,540.5 L254,540.5 L254,540.0 L256,540.0 L256,539.5 L257,539.5 L257,539.0 L259,539.0 L259,538.5 L260,538.5 L260,538.0 L262,538.0 L262,537.5 L263,537.5 L263,537.0 L265,537.0 L265,536.5 L266,536.5 L266,536.0 L268,536.0 L268,535.5 L269,535.5 L269,535.0 L271,535.0 L271,534.5 L272,534.5 L272,534.0 L274,534.0 L274,533.5 L275,533.5 L275,533.0 L277,533.0 L277,532.5 L279,532.5 L279,532.0 L280,532.0 L280,531.5 L282,531.5 L282,531.0 L283,531.0 L283,530.5 L285,530.5 L285,530.0 L286,530.0 L286,529.5 L287,529.5 L287,529.0 L289,529.0 L289,528.5 L290,528.5 L290,528.0 L291,528.0 L291,527.5 L292,527.5 L292,527.0 L293,527.0 L293,526.5 L294,526.5 L294,526.0 L295,526.0 L295,525.5 L296,525.5 L296,525.0 L297,525.0 L297,524.5 L298,524.5 L298,524.0 L299,524.0 L299,523.5 L300,523.5 L300,523.0 L301,523.0 L301,522.5 L302,522.5 L302,522.0 L303,522.0 L303,521.5 L304,521.5 L304,521.0 L305,521.0 L305,520.5 L306,520.5 L306,520.0 L307,520.0 L307,519.5 L308,519.5 L308,519.0 L309,519.0 L309,518.5 L310,518.5 L310,518.0 L311,518.0 L311,517.5 L312,517.5 L312,517.0 L313,517.0 L313,516.5 L314,516.5 L314,516.0 L315,516.0 L315,515.5 L316,515.5 L316,515.0 L317,515.0 L317,514.5 L318,514.5 L318,514.0 L319,514.0 L319,513.5 L320,513.5 L320,513.0 L321,513.0 L321,512.5 L322,512.5 L322,512.0 L323,512.0 L323,511.5 L324,511.5 L324,511.0 L325,511.0 L325,510.5 L326,510.5 L326,510.0 L327,510.0 L327,509.0 L328,509.0 L328,508.5 L329,508.5 L329,508.0 L330,508.0 L330,507.5 L331,507.5 L331,507.0 L332,507.0 L332,506.5 L333,506.5 L333,506.0 L334,506.0 L334,505.5 L335,505.5 L335,505.0 L336,505.0 L336,504.5 L337,504.5 L337,504.0 L338,504.0 L338,503.5 L339,503.5 L339,503.0 L340,503.0 L340,502.0 L341,502.0 L341,501.5 L342,501.5 L342,501.0 L343,501.0 L343,500.5 L344,500.5 L344,500.0 L345,500.0 L345,499.5 L346,499.5 L346,498.5 L347,498.5 L347,498.0 L348,498.0 L348,497.5 L349,497.5 L349,497.0 L350,497.0 L350,496.5 L351,496.5 L351,496.0 L352,496.0 L352,495.5 L353,495.5 L353,495.0 L354,495.0 L354,494.5 L356,494.5 L356,494.0 L357,494.0 L357,493.5 L358,493.5 L358,493.0 L360,493.0 L360,492.5 L361,492.5 L361,492.0 L362,492.0 L362,491.5 L364,491.5 L364,491.0 L365,491.0 L365,490.5 L366,490.5 L366,490.0 L368,490.0 L368,489.5 L369,489.5 L369,489.0 L370,489.0 L370,488.5 L371,488.5 L371,488.0 L372,488.0 L372,487.5 L373,487.5 L373,487.0 L374,487.0 L374,486.5 L376,486.5 L376,486.0 L377,486.0 L377,485.5 L378,485.5 L378,485.0 L379,485.0 L379,484.5 L380,484.5 L380,484.0 L381,484.0 L381,483.5 L382,483.5 L382,483.0 L384,483.0 L384,482.5 L385,482.5 L385,482.0 L386,482.0 L386,481.5 L387,481.5 L387,481.0 L389,481.0 L389,480.5 L390,480.5 L390,480.0 L392,480.0 L392,479.5 L393,479.5 L393,479.0 L395,479.0 L395,478.5 L396,478.5 L396,478.0 L398,478.0 L398,477.5 L400,477.5 L400,477.0 L402,477.0 L402,476.5 L404,476.5 L404,476.0 L405,476.0 L405,475.5 L407,475.5 L407,475.0 L409,475.0 L409,474.5 L411,474.5 L411,474.0 L413,474.0 L413,473.5 L415,473.5 L415,473.0 L417,473.0 L417,472.5 L419,472.5 L419,472.0 L421,472.0 L421,471.5 L423,471.5 L423,471.0 L424,471.0 L424,470.5 L426,470.5 L426,470.0 L427,470.0 L427,469.5 L429,469.5 L429,469.0 L430,469.0 L430,468.5 L431,468.5 L431,468.0 L432,468.0 L432,467.5 L433,467.5 L433,467.0 L434,467.0 L434,466.5 L436,466.5 L436,466.0 L437,466.0 L437,465.5 L438,465.5 L438,465.0 L439,465.0 L439,464.5 L440,464.5 L440,464.0 L441,464.0 L441,463.5 L442,463.5 L442,463.0 L443,463.0 L443,462.5 L444,462.5 L444,462.0 L445,462.0 L445,461.5 L446,461.5 L446,461.0 L447,461.0 L447,460.5 L448,460.5 L448,460.0 L449,460.0 L449,459.5 L450,459.5 L450,459.0 L451,459.0 L451,458.5 L453,458.5 L453,458.0 L454,458.0 L454,457.5 L455,457.5 L455,457.0 L456,457.0 L456,456.0 L457,456.0 L457,455.5 L458,455.5 L458,455.0 L459,455.0 L459,454.5 L460,454.5 L460,454.0 L461,454.0 L461,453.5 L462,453.5 L462,453.0 L464,453.0 L464,452.0 L466,452.0 L466,451.5 L467,451.5 L467,451.0 L468,451.0 L468,450.5 L469,450.5 L469,450.0 L470,450.0 L470,449.5 L471,449.5 L471,449.0 L472,449.0 L472,448.5 L473,448.5 L473,448.0 L474,448.0 L474,447.5 L475,447.5 L475,447.0 L476,447.0 L476,446.5 L477,446.5 L477,446.0 L478,446.0 L478,445.5 L479,445.5 L479,445.0 L480,445.0 L480,444.5 L481,444.5 L481,444.0 L482,444.0 L482,443.5 L483,443.5 L483,443.0 L484,443.0 L484,442.5 L485,442.5 L485,442.0 L486,442.0 L486,441.5 L487,441.5 L487,441.0 L488,441.0 L488,440.5 L489,440.5 L489,440.0 L490,440.0 L490,439.5 L491,439.5 L491,439.0 L492,439.0 L492,438.5 L493,438.5 L493,438.0 L495,438.0 L495,437.5 L496,437.5 L496,437.0 L497,437.0 L497,436.5 L498,436.5 L498,436.0 L499,436.0 L499,435.5 L500,435.5 L500,435.0 L501,435.0 L501,434.5 L502,434.5 L502,434.0 L503,434.0 L503,433.5 L504,433.5 L504,433.0 L505,433.0 L505,432.5 L506,432.5 L506,432.0 L507,432.0 L507,431.5 L508,431.5 L508,431.0 L509,431.0 L509,430.5 L510,430.5 L510,430.0 L512,430.0 L512,429.5 L513,429.5 L513,429.0 L514,429.0 L514,428.5 L515,428.5 L515,428.0 L516,428.0 L516,427.5 L517,427.5 L517,427.0 L518,427.0 L518,426.5 L519,426.5 L519,426.0 L520,426.0 L520,425.5 L521,425.5 L521,425.0 L523,425.0 L523,424.5 L524,424.5 L524,424.0 L525,424.0 L525,423.5 L526,423.5 L526,423.0 L527,423.0 L527,422.5 L528,422.5 L528,422.0 L529,422.0 L529,421.5 L531,421.5 L531,421.0 L532,421.0 L532,420.5 L533,420.5 L533,420.0 L534,420.0 L534,419.5 L535,419.5 L535,419.0 L537,419.0 L537,418.5 L538,418.5 L538,418.0 L539,418.0 L539,417.5 L541,417.5 L541,417.0 L542,417.0 L542,416.5 L544,416.5 L544,416.0 L545,416.0 L545,415.5 L547,415.5 L547,415.0 L548,415.0 L548,414.5 L550,414.5 L550,414.0 L551,414.0 L551,413.5 L553,413.5 L553,413.0 L554,413.0 L554,412.5 L556,412.5 L556,412.0 L557,412.0 L557,411.5 L559,411.5 L559,411.0 L560,411.0 L560,410.5 L562,410.5 L562,410.0 L563,410.0 L563,409.5 L565,409.5 L565,409.0 L566,409.0 L566,408.5 L568,408.5 L568,408.0 L569,408.0 L569,407.5 L571,407.5 L571,407.0 L572,407.0 L572,406.5 L574,406.5 L574,406.0 L575,406.0 L575,405.5 L577,405.5 L577,405.0 L578,405.0 L578,404.5 L580,404.5 L580,404.0 L581,404.0 L581,403.5 L583,403.5 L583,403.0 L585,403.0 L585,402.5 L586,402.5 L586,402.0 L588,402.0 L588,401.5 L590,401.5 L590,401.0 L591,401.0 L591,400.5 L593,400.5 L593,400.0 L595,400.0 L595,399.5 L596,399.5 L596,399.0 L598,399.0 L598,398.5 L599,398.5 L599,398.0 L600,398.0 L600,397.5 L602,397.5 L602,397.0 L603,397.0 L603,396.5 L605,396.5 L605,396.0 L606,396.0 L606,395.5 L608,395.5 L608,395.0 L609,395.0 L609,394.5 L610,394.5 L610,394.0 L612,394.0 L612,393.5 L613,393.5 L613,393.0 L615,393.0 L615,392.5 L616,392.5 L616,392.0 L618,392.0 L618,391.5 L620,391.5 L620,391.0 L621,391.0 L621,390.5 L623,390.5 L623,390.0 L624,390.0 L624,389.5 L626,389.5 L626,389.0 L627,389.0 L627,388.5 L629,388.5 L629,388.0 L630,388.0 L630,387.5 L632,387.5 L632,387.0 L634,387.0 L634,386.5 L635,386.5 L635,386.0 L637,386.0 L637,385.5 L638,385.5 L638,385.0 L640,385.0 L640,384.5 L641,384.5 L641,384.0 L643,384.0 L643,383.5 L645,383.5 L645,383.0 L646,383.0 L646,382.5 L648,382.5 L648,382.0 L649,382.0 L649,381.5 L651,381.5 L651,381.0 L652,381.0 L652,380.5 L654,380.5 L654,380.0 L655,380.0 L655,379.5 L657,379.5 L657,379.0 L658,379.0 L658,378.5 L660,378.5 L660,378.0 L661,378.0 L661,377.5 L663,377.5 L663,377.0 L664,377.0 L664,376.5 L665,376.5 L665,376.0 L667,376.0 L667,375.5 L668,375.5 L668,375.0 L670,375.0 L670,374.5 L671,374.5 L671,374.0 L672,374.0 L672,373.5 L674,373.5 L674,373.0 L675,373.0 L675,372.5 L677,372.5 L677,372.0 L678,372.0 L678,371.5 L679,371.5 L679,371.0 L681,371.0 L681,370.5 L682,370.5 L682,370.0 L683,370.0 L683,369.5 L685,369.5 L685,369.0 L686,369.0 L686,368.5 L688,368.5 L688,368.0 L689,368.0 L689,367.5 L690,367.5 L690,367.0 L692,367.0 L692,366.5 L693,366.5 L693,366.0 L695,366.0 L695,365.5 L696,365.5 L696,365.0 L698,365.0 L698,364.5 L700,364.5 L700,364.0 L701,364.0 L701,363.5 L703,363.5 L703,363.0 L706,363.0 L706,362.5 L708,362.5 L708,362.0 L711,362.0 L711,361.5 L713,361.5 L713,361.0 L716,361.0 L716,360.5 L719,360.5 L719,360.0 L721,360.0 L721,359.5 L723,359.5 L723,359.0 L726,359.0 L726,358.5 L728,358.5 L728,358.0 L730,358.0 L730,357.5 L733,357.5 L733,357.0 L735,357.0 L735,356.5 L737,356.5 L737,356.0 L740,356.0 L740,355.5 L742,355.5 L742,355.0 L744,355.0 L744,354.5 L747,354.5 L747,354.0 L749,354.0 L749,353.5 L751,353.5 L751,353.0 L753,353.0 L753,352.5 L756,352.5 L756,352.0 L758,352.0 L758,351.5 L761,351.5 L761,351.0 L764,351.0 L764,350.5 L767,350.5 L767,350.0 L770,350.0 L770,349.5 L773,349.5 L773,349.0 L776,349.0 L776,348.5 L777,348.5 L777,580 Z" fill="#aca452" shape-rendering="crispEdges"/>
<path d="M50,580 L52,580.0 L52,579.5 L61,579.5 L61,578.5 L69,578.5 L69,577.0 L70,577.0 L70,576.5 L74,576.5 L74,576.0 L78,576.0 L78,575.5 L82,575.5 L82,575.0 L86,575.0 L86,574.5 L90,574.5 L90,574.0 L101,574.0 L101,572.5 L103,572.5 L103,572.0 L107,572.0 L107,571.5 L110,571.5 L110,571.0 L114,571.0 L114,570.5 L118,570.5 L118,570.0 L123,570.0 L123,569.5 L127,569.5 L127,569.0 L131,569.0 L131,568.5 L134,568.5 L134,568.0 L136,568.0 L136,567.5 L139,567.5 L139,567.0 L142,567.0 L142,566.5 L144,566.5 L144,566.0 L147,566.0 L147,565.5 L149,565.5 L149,565.0 L152,565.0 L152,564.5 L154,564.5 L154,564.0 L157,564.0 L157,563.5 L160,563.5 L160,563.0 L162,563.0 L162,562.5 L165,562.5 L165,562.0 L167,562.0 L167,561.5 L169,561.5 L169,561.0 L172,561.0 L172,560.5 L174,560.5 L174,560.0 L176,560.0 L176,559.5 L179,559.5 L179,559.0 L181,559.0 L181,558.5 L183,558.5 L183,558.0 L185,558.0 L185,557.5 L188,557.5 L188,557.0 L190,557.0 L190,556.5 L192,556.5 L192,556.0 L194,556.0 L194,555.5 L197,555.5 L197,555.0 L199,555.0 L199,554.5 L201,554.5 L201,554.0 L203,554.0 L203,553.5 L205,553.5 L205,553.0 L207,553.0 L207,552.5 L209,552.5 L209,552.0 L211,552.0 L211,551.5 L213,551.5 L213,551.0 L215,551.0 L215,550.5 L217,550.5 L217,550.0 L219,550.0 L219,549.5 L221,549.5 L221,549.0 L223,549.0 L223,548.5 L225,548.5 L225,548.0 L227,548.0 L227,547.5 L229,547.5 L229,547.0 L231,547.0 L231,546.5 L233,546.5 L233,546.0 L235,546.0 L235,545.5 L237,545.5 L237,545.0 L239,545.0 L239,544.5 L241,544.5 L241,544.0 L243,544.0 L243,543.5 L244,543.5 L244,543.0 L246,543.0 L246,542.5 L248,542.5 L248,542.0 L249,542.0 L249,541.5 L251,541.5 L251,541.0 L253,541.0 L253,540.5 L254,540.5 L254,540.0 L256,540.0 L256,539.5 L257,539.5 L257,539.0 L259,539.0 L259,538.5 L260,538.5 L260,538.0 L262,538.0 L262,537.5 L263,537.5 L263,537.0 L265,537.0 L265,536.5 L266,536.5 L266,536.0 L268,536.0 L268,535.5 L269,535.5 L269,535.0 L271,535.0 L271,534.5 L272,534.5 L272,534.0 L274,534.0 L274,533.5 L275,533.5 L275,533.0 L277,533.0 L277,532.5 L279,532.5 L279,532.0 L280,532.0 L280,531.5 L282,531.5 L282,531.0 L283,531.0 L283,530.5 L285,530.5 L285,530.0 L286,530.0 L286,529.5 L287,529.5 L287,529.0 L289,529.0 L289,528.5 L290,528.5 L290,528.0 L291,528.0 L291,527.5 L292,527.5 L292,527.0 L293,527.0 L293,526.5 L294,526.5 L294,526.0 L295,526.0 L295,525.5 L296,525.5 L296,525.0 L297,525.0 L297,524.5 L298,524.5 L298,524.0 L299,524.0 L299,523.5 L300,523.5 L300,523.0 L301,523.0 L301,522.5 L302,522.5 L302,522.0 L303,522.0 L303,521.5 L304,521.5 L304,521.0 L305,521.0 L305,520.5 L306,520.5 L306,520.0 L307,520.0 L307,519.5 L308,519.5 L308,519.0 L309,519.0 L309,518.5 L310,518.5 L310,518.0 L311,518.0 L311,517.5 L312,517.5 L312,517.0 L313,517.0 L313,516.5 L314,516.5 L314,516.0 L315,516.0 L315,515.5 L316,515.5 L316,515.0 L317,515.0 L317,514.5 L318,514.5 L318,514.0 L319,514.0 L319,513.5 L320,513.5 L320,513.0 L321,513.0 L321,512.5 L322,512.5 L322,512.0 L323,512.0 L323,511.5 L324,511.5 L324,511.0 L325,511.0 L325,510.5 L326,510.5 L326,510.0 L327,510.0 L327,509.0 L328,509.0 L328,508.5 L329,508.5 L329,508.0 L330,508.0 L330,507.5 L331,507.5 L331,507.0 L332,507.0 L332,506.5 L333,506.5 L333,506.0 L334,506.0 L334,505.5 L335,505.5 L335,505.0 L336,505.0 L336,504.5 L337,504.5 L337,504.0 L338,504.0 L338,503.5 L339,503.5 L339,503.0 L340,503.0 L340,502.0 L341,502.0 L341,501.5 L342,501.5 L342,501.0 L343,501.0 L343,500.5 L344,500.5 L344,500.0 L345,500.0 L345,499.5 L346,499.5 L346,498.5 L347,498.5 L347,498.0 L348,498.0 L348,497.5 L349,497.5 L349,497.0 L350,497.0 L350,496.5 L351,496.5 L351,496.0 L352,496.0 L352,495.5 L353,495.5 L353,495.0 L354,495.0 L354,494.5 L356,494.5 L356,494.0 L357,494.0 L357,493.5 L358,493.5 L358,493.0 L360,493.0 L360,492.5 L361,492.5 L361,492.0 L362,492.0 L362,491.5 L364,491.5 L364,491.0 L365,491.0 L365,490.5 L366,490.5 L366,490.0 L368,490.0 L368,489.5 L369,489.5 L369,489.0 L370,489.0 L370,488.5 L371,488.5 L371,488.0 L372,488.0 L372,487.5 L373,487.5 L373,487.0 L374,487.0 L374,486.5 L376,486.5 L376,486.0 L377,486.0 L377,485.5 L378,485.5 L378,485.0 L379,485.0 L379,484.5 L380,484.5 L380,484.0 L381,484.0 L381,483.5 L382,483.5 L382,483.0 L384,483.0 L384,482.5 L385,482.5 L385,482.0 L386,482.0 L386,481.5 L387,481.5 L387,481.0 L389,481.0 L389,480.5 L390,480.5 L390,480.0 L392,480.0 L392,479.5 L393,479.5 L393,479.0 L395,479.0 L395,478.5 L396,478.5 L396,478.0 L398,478.0 L398,477.5 L400,477.5 L400,477.0 L402,477.0 L402,476.5 L404,476.5 L404,476.0 L405,476.0 L405,475.5 L407,475.5 L407,475.0 L409,475.0 L409,474.5 L411,474.5 L411,474.0 L413,474.0 L413,473.5 L415,473.5 L415,473.0 L417,473.0 L417,472.5 L419,472.5 L419,472.0 L421,472.0 L421,471.5 L423,471.5 L423,471.0 L424,471.0 L424,470.5 L426,470.5 L426,470.0 L427,470.0 L427,469.5 L429,469.5 L429,469.0 L430,469.0 L430,468.5 L431,468.5 L431,468.0 L432,468.0 L432,467.5 L433,467.5 L433,467.0 L434,467.0 L434,466.5 L436,466.5 L436,466.0 L437,466.0 L437,465.5 L438,465.5 L438,465.0 L439,465.0 L439,464.5 L440,464.5 L440,464.0 L441,464.0 L441,463.5 L442,463.5 L442,463.0 L443,463.0 L443,462.5 L444,462.5 L444,462.0 L445,462.0 L445,461.5 L446,461.5 L446,461.0 L447,461.0 L447,460.5 L448,460.5 L448,460.0 L449,460.0 L449,459.5 L450,459.5 L450,459.0 L451,459.0 L451,458.5 L453,458.5 L453,458.0 L454,458.0 L454,457.5 L455,457.5 L455,457.0 L456,457.0 L456,456.0 L457,456.0 L457,455.5 L458,455.5 L458,455.0 L459,455.0 L459,454.5 L460,454.5 L460,454.0 L461,454.0 L461,453.5 L462,453.5 L462,453.0 L464,453.0 L464,452.0 L466,452.0 L466,451.5 L467,451.5 L467,451.0 L468,451.0 L468,450.5 L469,450.5 L469,450.0 L470,450.0 L470,449.5 L471,449.5 L471,449.0 L472,449.0 L472,448.5 L473,448.5 L473,448.0 L474,448.0 L474,447.5 L475,447.5 L475,447.0 L476,447.0 L476,446.5 L477,446.5 L477,446.0 L478,446.0 L478,445.5 L479,445.5 L479,445.0 L480,445.0 L480,444.5 L481,444.5 L481,444.0 L482,444.0 L482,443.5 L483,443.5 L483,443.0 L484,443.0 L484,442.5 L485,442.5 L485,442.0 L486,442.0 L486,441.5 L487,441.5 L487,441.0 L488,441.0 L488,440.5 L489,440.5 L489,440.0 L490,440.0 L490,439.5 L491,439.5 L491,439.0 L492,439.0 L492,438.5 L493,438.5 L493,438.0 L495,438.0 L495,437.5 L496,437.5 L496,437.0 L497,437.0 L497,436.5 L498,436.5 L498,436.0 L499,436.0 L499,435.5 L500,435.5 L500,435.0 L501,435.0 L501,434.5 L502,434.5 L502,434.0 L503,434.0 L503,433.5 L504,433.5 L504,433.0 L505,433.0 L505,432.5 L506,432.5 L506,432.0 L507,432.0 L507,431.5 L508,431.5 L508,431.0 L509,431.0 L509,430.5 L510,430.5 L510,430.0 L512,430.0 L512,429.5 L513,429.5 L513,429.0 L514,429.0 L514,428.5 L515,428.5 L515,428.0 L516,428.0 L516,427.5 L517,427.5 L517,427.0 L518,427.0 L518,426.5 L519,426.5 L519,426.0 L520,426.0 L520,425.5 L521,425.5 L521,425.0 L523,425.0 L523,424.5 L524,424.5 L524,424.0 L525,424.0 L525,423.5 L526,423.5 L526,423.0 L527,423.0 L527,422.5 L528,422.5 L528,422.0 L529,422.0 L529,421.5 L531,421.5 L531,421.0 L532,421.0 L532,420.5 L533,420.5 L533,420.0 L534,420.0 L534,419.5 L535,419.5 L535,419.0 L537,419.0 L537,418.5 L538,418.5 L538,418.0 L539,418.0 L539,417.5 L541,417.5 L541,417.0 L542,417.0 L542,416.5 L544,416.5 L544,416.0 L545,416.0 L545,415.5 L547,415.5 L547,415.0 L548,415.0 L548,414.5 L550,414.5 L550,414.0 L551,414.0 L551,413.5 L553,413.5 L553,413.0 L554,413.0 L554,412.5 L556,412.5 L556,412.0 L557,412.0 L557,411.5 L559,411.5 L559,411.0 L560,411.0 L560,410.5 L562,410.5 L562,410.0 L563,410.0 L563,409.5 L565,409.5 L565,409.0 L566,409.0 L566,408.5 L568,408.5 L568,408.0 L569,408.0 L569,407.5 L571,407.5 L571,407.0 L572,407.0 L572,406.5 L574,406.5 L574,406.0 L575,406.0 L575,405.5 L577,405.5 L577,405.0 L578,405.0 L578,404.5 L580,404.5 L580,404.0 L581,404.0 L581,403.5 L583,403.5 L583,403.0 L585,403.0 L585,402.5 L586,402.5 L586,402.0 L588,402.0 L588,401.5 L590,401.5 L590,401.0 L591,401.0 L591,400.5 L593,400.5 L593,400.0 L595,400.0 L595,399.5 L596,399.5 L596,399.0 L598,399.0 L598,398.5 L599,398.5 L599,398.0 L600,398.0 L600,397.5 L602,397.5 L602,397.0 L603,397.0 L603,396.5 L605,396.5 L605,396.0 L606,396.0 L606,395.5 L608,395.5 L608,395.0 L609,395.0 L609,394.5 L610,394.5 L610,394.0 L612,394.0 L612,393.5 L613,393.5 L613,393.0 L615,393.0 L615,392.5 L627,392.5 L627,391.0 L637,391.0 L637,390.5 L653,390.5 L653,380.5 L655,380.5 L655,380.0 L667,380.0 L667,375.5 L673,375.5 L673,374.0 L689,374.0 L689,367.5 L690,367.5 L690,367.0 L697,367.0 L697,365.5 L741,365.5 L741,364.5 L753,364.5 L753,362.5 L761,362.5 L761,361.5 L769,361.5 L769,361.0 L777,361.0 L777,580 Z" fill="#80ff80" shape-rendering="crispEdges"/>
<path d="M52,581h1v1h-1ZM54,580h1v1h-1ZM56,580h1v1h-1ZM58,580h1v1h-1ZM60,579h1v1h-1ZM62,579h1v1h-1ZM64,579h1v1h-1ZM66,578h1v1h-1ZM68,578h1v1h-1ZM70,578h1v1h-1ZM72,577h1v1h-1ZM74,577h1v1h-1ZM76,577h1v1h-1ZM78,577h1v1h-1ZM80,576h1v1h-1ZM82,576h1v1h-1ZM84,576h1v1h-1ZM86,576h1v1h-1ZM88,575h1v1h-1ZM90,575h1v1h-1ZM92,575h1v1h-1ZM94,575h1v1h-1ZM96,574h1v1h-1ZM98,574h1v1h-1ZM100,574h1v1h-1ZM102,573h1v1h-1ZM104,573h1v1h-1ZM106,573h1v1h-1ZM108,572h1v1h-1ZM110,572h1v1h-1ZM112,572h1v1h-1ZM114,572h1v1h-1ZM116,571h1v1h-1ZM118,571h1v1h-1ZM120,571h1v1h-1ZM122,571h1v1h-1ZM124,571h1v1h-1ZM126,570h1v1h-1ZM128,570h1v1h-1ZM130,570h1v1h-1ZM132,569h1v1h-1ZM134,569h1v1h-1ZM136,569h1v1h-1ZM138,568h1v1h-1ZM140,568h1v1h-1ZM142,568h1v1h-1ZM144,567h1v1h-1ZM146,567h1v1h-1ZM148,566h1v1h-1ZM150,566h1v1h-1ZM152,566h1v1h-1ZM154,565h1v1h-1ZM156,565h1v1h-1ZM158,564h1v1h-1ZM160,564h1v1h-1ZM162,564h1v1h-1ZM164,563h1v1h-1ZM166,563h1v1h-1ZM168,562h1v1h-1ZM170,562h1v1h-1ZM172,562h1v1h-1ZM174,561h1v1h-1ZM176,561h1v1h-1ZM178,560h1v1h-1ZM180,560h1v1h-1ZM182,559h1v1h-1ZM184,559h1v1h-1ZM186,558h1v1h-1ZM188,558h1v1h-1ZM190,558h1v1h-1ZM192,557h1v1h-1ZM194,557h1v1h-1ZM196,556h1v1h-1ZM198,556h1v1h-1ZM200,555h1v1h-1ZM202,555h1v1h-1ZM204,554h1v1h-1ZM206,554h1v1h-1ZM208,553h1v1h-1ZM210,553h1v1h-1ZM212,552h1v1h-1ZM214,552h1v1h-1ZM216,551h1v1h-1ZM218,551h1v1h-1ZM220,550h1v1h-1ZM222,550h1v1h-1ZM224,549h1v1h-1ZM226,549h1v1h-1ZM228,548h1v1h-1ZM230,548h1v1h-1ZM232,547h1v1h-1ZM234,547h1v1h-1ZM236,546h1v1h-1ZM238,546h1v1h-1ZM240,545h1v1h-1ZM242,545h1v1h-1ZM244,544h1v1h-1ZM246,544h1v1h-1ZM248,543h1v1h-1ZM250,542h1v1h-1ZM252,542h1v1h-1ZM254,541h1v1h-1ZM256,540h1v1h-1ZM258,540h1v1h-1ZM260,539h1v1h-1ZM262,538h1v1h-1ZM264,538h1v1h-1ZM266,537h1v1h-1ZM268,537h1v1h-1ZM270,536h1v1h-1ZM272,535h1v1h-1ZM274,535h1v1h-1ZM276,534h1v1h-1ZM278,533h1v1h-1ZM280,533h1v1h-1ZM282,532h1v1h-1ZM284,531h1v1h-1ZM286,531h1v1h-1ZM288,530h1v1h-1ZM290,529h1v1h-1ZM292,528h1v1h-1ZM294,527h1v1h-1ZM296,526h1v1h-1ZM298,525h1v1h-1ZM300,524h1v1h-1ZM302,523h1v1h-1ZM304,522h1v1h-1ZM306,521h1v1h-1ZM308,520h1v1h-1ZM310,519h1v1h-1ZM312,518h1v1h-1ZM314,517h1v1h-1ZM316,516h1v1h-1ZM318,515h1v1h-1ZM320,514h1v1h-1ZM322,513h1v1h-1ZM324,512h1v1h-1ZM326,511h1v1h-1ZM328,510h1v1h-1ZM330,509h1v1h-1ZM332,508h1v1h-1ZM334,507h1v1h-1ZM336,505h1v1h-1ZM338,504h1v1h-1ZM340,503h1v1h-1ZM342,502h1v1h-1ZM344,501h1v1h-1ZM346,500h1v1h-1ZM348,499h1v1h-1ZM350,498h1v1h-1ZM352,497h1v1h-1ZM354,496h1v1h-1ZM356,495h1v1h-1ZM358,494h1v1h-1ZM360,493h1v1h-1ZM362,493h1v1h-1ZM364,492h1v1h-1ZM366,491h1v1h-1ZM368,490h1v1h-1ZM370,489h1v1h-1ZM372,489h1v1h-1ZM374,488h1v1h-1ZM376,487h1v1h-1ZM378,486h1v1h-1ZM380,485h1v1h-1ZM382,484h1v1h-1ZM384,483h1v1h-1ZM386,483h1v1h-1ZM388,482h1v1h-1ZM390,481h1v1h-1ZM392,480h1v1h-1ZM394,480h1v1h-1ZM396,479h1v1h-1ZM398,479h1v1h-1ZM400,478h1v1h-1ZM402,478h1v1h-1ZM404,477h1v1h-1ZM406,476h1v1h-1ZM408,476h1v1h-1ZM410,475h1v1h-1ZM412,475h1v1h-1ZM414,474h1v1h-1ZM416,474h1v1h-1ZM418,473h1v1h-1ZM420,473h1v1h-1ZM422,472h1v1h-1ZM424,472h1v1h-1ZM426,471h1v1h-1ZM428,470h1v1h-1ZM430,469h1v1h-1ZM432,469h1v1h-1ZM434,468h1v1h-1ZM436,467h1v1h-1ZM438,466h1v1h-1ZM440,465h1v1h-1ZM442,464h1v1h-1ZM444,463h1v1h-1ZM446,462h1v1h-1ZM448,461h1v1h-1ZM450,460h1v1h-1ZM452,459h1v1h-1ZM454,458h1v1h-1ZM456,457h1v1h-1ZM458,456h1v1h-1ZM460,455h1v1h-1ZM462,454h1v1h-1ZM464,453h1v1h-1ZM466,452h1v1h-1ZM468,451h1v1h-1ZM470,450h1v1h-1ZM472,449h1v1h-1ZM474,448h1v1h-1ZM476,447h1v1h-1ZM478,446h1v1h-1ZM480,445h1v1h-1ZM482,444h1v1h-1ZM484,443h1v1h-1ZM486,443h1v1h-1ZM488,442h1v1h-1ZM490,441h1v1h-1ZM492,440h1v1h-1ZM494,439h1v1h-1ZM496,438h1v1h-1ZM498,437h1v1h-1ZM500,436h1v1h-1ZM502,435h1v1h-1ZM504,434h1v1h-1ZM506,433h1v1h-1ZM508,432h1v1h-1ZM510,431h1v1h-1ZM512,430h1v1h-1ZM514,429h1v1h-1ZM516,428h1v1h-1ZM518,428h1v1h-1ZM520,427h1v1h-1ZM522,426h1v1h-1ZM524,425h1v1h-1ZM526,424h1v1h-1ZM528,423h1v1h-1ZM530,422h1v1h-1ZM532,421h1v1h-1ZM534,421h1v1h-1ZM536,420h1v1h-1ZM538,419h1v1h-1ZM540,418h1v1h-1ZM542,418h1v1h-1ZM544,417h1v1h-1ZM546,416h1v1h-1ZM548,416h1v1h-1ZM550,415h1v1h-1ZM552,414h1v1h-1ZM554,414h1v1h-1ZM556,413h1v1h-1ZM558,412h1v1h-1ZM560,412h1v1h-1ZM562,411h1v1h-1ZM564,410h1v1h-1ZM566,410h1v1h-1ZM568,409h1v1h-1ZM570,408h1v1h-1ZM572,408h1v1h-1ZM574,407h1v1h-1ZM576,406h1v1h-1ZM578,406h1v1h-1ZM580,405h1v1h-1ZM582,404h1v1h-1ZM584,404h1v1h-1ZM586,403h1v1h-1ZM588,403h1v1h-1ZM590,402h1v1h-1ZM592,401h1v1h-1ZM594,401h1v1h-1ZM596,400h1v1h-1ZM598,399h1v1h-1ZM600,399h1v1h-1ZM602,398h1v1h-1ZM604,397h1v1h-1ZM606,397h1v1h-1ZM608,396h1v1h-1ZM610,395h1v1h-1ZM612,395h1v1h-1ZM614,394h1v1h-1ZM616,393h1v1h-1ZM618,393h1v1h-1ZM620,392h1v1h-1ZM622,391h1v1h-1ZM624,391h1v1h-1ZM626,390h1v1h-1ZM628,389h1v1h-1ZM630,389h1v1h-1ZM632,388h1v1h-1ZM634,387h1v1h-1ZM636,387h1v1h-1ZM638,386h1v1h-1ZM640,386h1v1h-1ZM642,385h1v1h-1ZM644,384h1v1h-1ZM646,384h1v1h-1ZM648,383h1v1h-1ZM650,382h1v1h-1ZM652,382h1v1h-1ZM654,381h1v1h-1ZM656,380h1v1h-1ZM658,380h1v1h-1ZM660,379h1v1h-1ZM662,378h1v1h-1ZM664,378h1v1h-1ZM666,377h1v1h-1ZM668,376h1v1h-1ZM670,375h1v1h-1ZM672,375h1v1h-1ZM674,374h1v1h-1ZM676,373h1v1h-1ZM678,373h1v1h-1ZM680,372h1v1h-1ZM682,371h1v1h-1ZM684,370h1v1h-1ZM686,370h1v1h-1ZM688,369h1v1h-1ZM690,368h1v1h-1ZM692,368h1v1h-1ZM694,367h1v1h-1ZM696,366h1v1h-1ZM698,366h1v1h-1ZM700,365h1v1h-1ZM702,364h1v1h-1ZM704,364h1v1h-1ZM706,364h1v1h-1ZM708,363h1v1h-1ZM710,363h1v1h-1ZM712,362h1v1h-1ZM714,362h1v1h-1ZM716,362h1v1h-1ZM718,361h1v1h-1ZM720,361h1v1h-1ZM722,360h1v1h-1ZM724,360h1v1h-1ZM726,360h1v1h-1ZM728,359h1v1h-1ZM730,359h1v1h-1ZM732,358h1v1h-1ZM734,358h1v1h-1ZM736,357h1v1h-1ZM738,357h1v1h-1ZM740,357h1v1h-1ZM742,356h1v1h-1ZM744,356h1v1h-1ZM746,355h1v1h-1ZM748,355h1v1h-1ZM750,354h1v1h-1ZM752,354h1v1h-1ZM754,354h1v1h-1ZM756,353h1v1h-1ZM758,353h1v1h-1ZM760,352h1v1h-1ZM762,352h1v1h-1ZM764,352h1v1h-1ZM766,351h1v1h-1ZM768,351h1v1h-1ZM770,351h1v1h-1ZM772,350h1v1h-1ZM774,350h1v1h-1ZM776,350h1v1h-1Z" fill="#1a2a10" shape-rendering="crispEdges"/>
<path d="M51,580h1v1h-1ZM52,580h1v1h-1ZM53,579h1v1h-1ZM54,579h1v1h-1ZM55,579h1v1h-1ZM56,579h1v1h-1ZM57,579h1v1h-1ZM58,579h1v1h-1ZM59,578h1v1h-1ZM60,578h1v1h-1ZM61,578h1v1h-1ZM62,578h1v1h-1ZM63,578h1v1h-1ZM64,578h1v1h-1ZM65,577h1v1h-1ZM66,577h1v1h-1ZM67,577h1v1h-1ZM68,577h1v1h-1ZM69,577h1v1h-1ZM70,577h1v1h-1ZM71,577h1v1h-1ZM72,576h1v1h-1ZM73,576h1v1h-1ZM74,576h1v1h-1ZM75,576h1v1h-1ZM76,576h1v1h-1ZM77,576h1v1h-1ZM78,576h1v1h-1ZM79,576h1v1h-1ZM80,575h1v1h-1ZM81,575h1v1h-1ZM82,575h1v1h-1ZM83,575h1v1h-1ZM84,575h1v1h-1ZM85,575h1v1h-1ZM86,575h1v1h-1ZM87,575h1v1h-1ZM88,574h1v1h-1ZM89,574h1v1h-1ZM90,574h1v1h-1ZM91,574h1v1h-1ZM92,574h1v1h-1ZM93,574h1v1h-1ZM94,574h1v1h-1ZM95,573h1v1h-1ZM96,573h1v1h-1ZM97,573h1v1h-1ZM98,573h1v1h-1ZM99,573h1v1h-1ZM100,573h1v1h-1ZM101,573h1v1h-1ZM102,572h1v1h-1ZM103,572h1v1h-1ZM104,572h1v1h-1ZM105,572h1v1h-1ZM106,572h1v1h-1ZM107,572h1v1h-1ZM108,571h1v1h-1ZM109,571h1v1h-1ZM110,571h1v1h-1ZM111,571h1v1h-1ZM112,571h1v1h-1ZM113,571h1v1h-1ZM114,571h1v1h-1ZM115,571h1v1h-1ZM116,570h1v1h-1ZM117,570h1v1h-1ZM118,570h1v1h-1ZM119,570h1v1h-1ZM120,570h1v1h-1ZM121,570h1v1h-1ZM122,570h1v1h-1ZM123,570h1v1h-1ZM124,570h1v1h-1ZM125,569h1v1h-1ZM126,569h1v1h-1ZM127,569h1v1h-1ZM128,569h1v1h-1ZM129,569h1v1h-1ZM130,569h1v1h-1ZM131,569h1v1h-1ZM132,568h1v1h-1ZM133,568h1v1h-1ZM134,568h1v1h-1ZM135,568h1v1h-1ZM136,568h1v1h-1ZM137,568h1v1h-1ZM138,567h1v1h-1ZM139,567h1v1h-1ZM140,567h1v1h-1ZM141,567h1v1h-1ZM142,567h1v1h-1ZM143,566h1v1h-1ZM144,566h1v1h-1ZM145,566h1v1h-1ZM146,566h1v1h-1ZM147,566h1v1h-1ZM148,565h1v1h-1ZM149,565h1v1h-1ZM150,565h1v1h-1ZM151,565h1v1h-1ZM152,565h1v1h-1ZM153,564h1v1h-1ZM154,564h1v1h-1ZM155,564h1v1h-1ZM156,564h1v1h-1ZM157,564h1v1h-1ZM158,563h1v1h-1ZM159,563h1v1h-1ZM160,563h1v1h-1ZM161,563h1v1h-1ZM162,563h1v1h-1ZM163,562h1v1h-1ZM164,562h1v1h-1ZM165,562h1v1h-1ZM166,562h1v1h-1ZM167,562h1v1h-1ZM168,561h1v1h-1ZM169,561h1v1h-1ZM170,561h1v1h-1ZM171,561h1v1h-1ZM172,561h1v1h-1ZM173,560h1v1h-1ZM174,560h1v1h-1ZM175,560h1v1h-1ZM176,560h1v1h-1ZM177,559h1v1h-1ZM178,559h1v1h-1ZM179,559h1v1h-1ZM180,559h1v1h-1ZM181,559h1v1h-1ZM182,558h1v1h-1ZM183,558h1v1h-1ZM184,558h1v1h-1ZM185,558h1v1h-1ZM186,557h1v1h-1ZM187,557h1v1h-1ZM188,557h1v1h-1ZM189,557h1v1h-1ZM190,557h1v1h-1ZM191,556h1v1h-1ZM192,556h1v1h-1ZM193,556h1v1h-1ZM194,556h1v1h-1ZM195,556h1v1h-1ZM196,555h1v1h-1ZM197,555h1v1h-1ZM198,555h1v1h-1ZM199,555h1v1h-1ZM200,554h1v1h-1ZM201,554h1v1h-1ZM202,554h1v1h-1ZM203,554h1v1h-1ZM204,553h1v1h-1ZM205,553h1v1h-1ZM206,553h1v1h-1ZM207,553h1v1h-1ZM208,552h1v1h-1ZM209,552h1v1h-1ZM210,552h1v1h-1ZM211,552h1v1h-1ZM212,551h1v1h-1ZM213,551h1v1h-1ZM214,551h1v1h-1ZM215,551h1v1h-1ZM216,550h1v1h-1ZM217,550h1v1h-1ZM218,550h1v1h-1ZM219,550h1v1h-1ZM220,549h1v1h-1ZM221,549h1v1h-1ZM222,549h1v1h-1ZM223,549h1v1h-1ZM224,548h1v1h-1ZM225,548h1v1h-1ZM226,548h1v1h-1ZM227,548h1v1h-1ZM228,547h1v1h-1ZM229,547h1v1h-1ZM230,547h1v1h-1ZM231,547h1v1h-1ZM232,546h1v1h-1ZM233,546h1v1h-1ZM234,546h1v1h-1ZM235,546h1v1h-1ZM236,545h1v1h-1ZM237,545h1v1h-1ZM238,545h1v1h-1ZM239,545h1v1h-1ZM240,544h1v1h-1ZM241,544h1v1h-1ZM242,544h1v1h-1ZM243,544h1v1h-1ZM244,543h1v1h-1ZM245,543h1v1h-1ZM246,543h1v1h-1ZM247,542h1v1h-1ZM248,542h1v1h-1ZM249,542h1v1h-1ZM250,541h1v1h-1ZM251,541h1v1h-1ZM252,541h1v1h-1ZM253,540h1v1h-1ZM254,540h1v1h-1ZM255,540h1v1h-1ZM256,539h1v1h-1ZM257,539h1v1h-1ZM258,539h1v1h-1ZM259,538h1v1h-1ZM260,538h1v1h-1ZM261,538h1v1h-1ZM262,537h1v1h-1ZM263,537h1v1h-1ZM264,537h1v1h-1ZM265,537h1v1h-1ZM266,536h1v1h-1ZM267,536h1v1h-1ZM268,536h1v1h-1ZM269,535h1v1h-1ZM270,535h1v1h-1ZM271,535h1v1h-1ZM272,534h1v1h-1ZM273,534h1v1h-1ZM274,534h1v1h-1ZM275,533h1v1h-1ZM276,533h1v1h-1ZM277,533h1v1h-1ZM278,532h1v1h-1ZM279,532h1v1h-1ZM280,532h1v1h-1ZM281,531h1v1h-1ZM282,531h1v1h-1ZM283,531h1v1h-1ZM284,530h1v1h-1ZM285,530h1v1h-1ZM286,530h1v1h-1ZM287,529h1v1h-1ZM288,529h1v1h-1ZM289,528h1v1h-1ZM290,528h1v1h-1ZM291,528h1v1h-1ZM292,527h1v1h-1ZM293,527h1v1h-1ZM294,526h1v1h-1ZM295,526h1v1h-1ZM296,525h1v1h-1ZM297,525h1v1h-1ZM298,524h1v1h-1ZM299,524h1v1h-1ZM300,523h1v1h-1ZM301,523h1v1h-1ZM302,522h1v1h-1ZM303,522h1v1h-1ZM304,521h1v1h-1ZM305,521h1v1h-1ZM306,520h1v1h-1ZM307,520h1v1h-1ZM308,519h1v1h-1ZM309,518h1v1h-1ZM310,518h1v1h-1ZM311,517h1v1h-1ZM312,517h1v1h-1ZM313,516h1v1h-1ZM314,516h1v1h-1ZM315,515h1v1h-1ZM316,515h1v1h-1ZM317,514h1v1h-1ZM318,514h1v1h-1ZM319,513h1v1h-1ZM320,513h1v1h-1ZM321,512h1v1h-1ZM322,512h1v1h-1ZM323,511h1v1h-1ZM324,511h1v1h-1ZM325,510h1v1h-1ZM326,510h1v1h-1ZM327,509h1v1h-1ZM328,509h1v1h-1ZM329,508h1v1h-1ZM330,508h1v1h-1ZM331,507h1v1h-1ZM332,507h1v1h-1ZM333,506h1v1h-1ZM334,506h1v1h-1ZM335,505h1v1h-1ZM336,504h1v1h-1ZM337,504h1v1h-1ZM338,503h1v1h-1ZM339,503h1v1h-1ZM340,502h1v1h-1ZM341,502h1v1h-1ZM342,501h1v1h-1ZM343,500h1v1h-1ZM344,500h1v1h-1ZM345,499h1v1h-1ZM346,499h1v1h-1ZM347,498h1v1h-1ZM348,498h1v1h-1ZM349,497h1v1h-1ZM350,497h1v1h-1ZM351,496h1v1h-1ZM352,496h1v1h-1ZM353,495h1v1h-1ZM354,495h1v1h-1ZM355,494h1v1h-1ZM356,494h1v1h-1ZM357,494h1v1h-1ZM358,493h1v1h-1ZM359,493h1v1h-1ZM360,492h1v1h-1ZM361,492h1v1h-1ZM362,492h1v1h-1ZM363,491h1v1h-1ZM364,491h1v1h-1ZM365,491h1v1h-1ZM366,490h1v1h-1ZM367,490h1v1h-1ZM368,489h1v1h-1ZM369,489h1v1h-1ZM370,488h1v1h-1ZM371,488h1v1h-1ZM372,488h1v1h-1ZM373,487h1v1h-1ZM374,487h1v1h-1ZM375,486h1v1h-1ZM376,486h1v1h-1ZM377,485h1v1h-1ZM378,485h1v1h-1ZM379,485h1v1h-1ZM380,484h1v1h-1ZM381,484h1v1h-1ZM382,483h1v1h-1ZM383,483h1v1h-1ZM384,482h1v1h-1ZM385,482h1v1h-1ZM386,482h1v1h-1ZM387,481h1v1h-1ZM388,481h1v1h-1ZM389,480h1v1h-1ZM390,480h1v1h-1ZM391,480h1v1h-1ZM392,479h1v1h-1ZM393,479h1v1h-1ZM394,479h1v1h-1ZM395,478h1v1h-1ZM396,478h1v1h-1ZM397,478h1v1h-1ZM398,478h1v1h-1ZM399,477h1v1h-1ZM400,477h1v1h-1ZM401,477h1v1h-1ZM402,477h1v1h-1ZM403,476h1v1h-1ZM404,476h1v1h-1ZM405,476h1v1h-1ZM406,475h1v1h-1ZM407,475h1v1h-1ZM408,475h1v1h-1ZM409,475h1v1h-1ZM410,474h1v1h-1ZM411,474h1v1h-1ZM412,474h1v1h-1ZM413,474h1v1h-1ZM414,473h1v1h-1ZM415,473h1v1h-1ZM416,473h1v1h-1ZM417,473h1v1h-1ZM418,472h1v1h-1ZM419,472h1v1h-1ZM420,472h1v1h-1ZM421,472h1v1h-1ZM422,471h1v1h-1ZM423,471h1v1h-1ZM424,471h1v1h-1ZM425,470h1v1h-1ZM426,470h1v1h-1ZM427,470h1v1h-1ZM428,469h1v1h-1ZM429,469h1v1h-1ZM430,468h1v1h-1ZM431,468h1v1h-1ZM432,468h1v1h-1ZM433,467h1v1h-1ZM434,467h1v1h-1ZM435,466h1v1h-1ZM436,466h1v1h-1ZM437,465h1v1h-1ZM438,465h1v1h-1ZM439,464h1v1h-1ZM440,464h1v1h-1ZM441,464h1v1h-1ZM442,463h1v1h-1ZM443,463h1v1h-1ZM444,462h1v1h-1ZM445,462h1v1h-1ZM446,461h1v1h-1ZM447,461h1v1h-1ZM448,460h1v1h-1ZM449,460h1v1h-1ZM450,459h1v1h-1ZM451,459h1v1h-1ZM452,458h1v1h-1ZM453,458h1v1h-1ZM454,457h1v1h-1ZM455,457h1v1h-1ZM456,456h1v1h-1ZM457,456h1v1h-1ZM458,455h1v1h-1ZM459,455h1v1h-1ZM460,454h1v1h-1ZM461,454h1v1h-1ZM462,453h1v1h-1ZM463,453h1v1h-1ZM464,452h1v1h-1ZM465,452h1v1h-1ZM466,451h1v1h-1ZM467,451h1v1h-1ZM468,450h1v1h-1ZM469,450h1v1h-1ZM470,449h1v1h-1ZM471,449h1v1h-1ZM472,448h1v1h-1ZM473,448h1v1h-1ZM474,447h1v1h-1ZM475,447h1v1h-1ZM476,446h1v1h-1ZM477,446h1v1h-1ZM478,445h1v1h-1ZM479,445h1v1h-1ZM480,444h1v1h-1ZM481,444h1v1h-1ZM482,443h1v1h-1ZM483,443h1v1h-1ZM484,442h1v1h-1ZM485,442h1v1h-1ZM486,442h1v1h-1ZM487,441h1v1h-1ZM488,441h1v1h-1ZM489,440h1v1h-1ZM490,440h1v1h-1ZM491,439h1v1h-1ZM492,439h1v1h-1ZM493,438h1v1h-1ZM494,438h1v1h-1ZM495,437h1v1h-1ZM496,437h1v1h-1ZM497,436h1v1h-1ZM498,436h1v1h-1ZM499,435h1v1h-1ZM500,435h1v1h-1ZM501,434h1v1h-1ZM502,434h1v1h-1ZM503,433h1v1h-1ZM504,433h1v1h-1ZM505,433h1v1h-1ZM506,432h1v1h-1ZM507,432h1v1h-1ZM508,431h1v1h-1ZM509,431h1v1h-1ZM510,430h1v1h-1ZM511,430h1v1h-1ZM512,429h1v1h-1ZM513,429h1v1h-1ZM514,428h1v1h-1ZM515,428h1v1h-1ZM516,427h1v1h-1ZM517,427h1v1h-1ZM518,427h1v1h-1ZM519,426h1v1h-1ZM520,426h1v1h-1ZM521,425h1v1h-1ZM522,425h1v1h-1ZM523,424h1v1h-1ZM524,424h1v1h-1ZM525,423h1v1h-1ZM526,423h1v1h-1ZM527,423h1v1h-1ZM528,422h1v1h-1ZM529,422h1v1h-1ZM530,421h1v1h-1ZM531,421h1v1h-1ZM532,420h1v1h-1ZM533,420h1v1h-1ZM534,420h1v1h-1ZM535,419h1v1h-1ZM536,419h1v1h-1ZM537,418h1v1h-1ZM538,418h1v1h-1ZM539,418h1v1h-1ZM540,417h1v1h-1ZM541,417h1v1h-1ZM542,417h1v1h-1ZM543,416h1v1h-1ZM544,416h1v1h-1ZM545,416h1v1h-1ZM546,415h1v1h-1ZM547,415h1v1h-1ZM548,415h1v1h-1ZM549,414h1v1h-1ZM550,414h1v1h-1ZM551,414h1v1h-1ZM552,413h1v1h-1ZM553,413h1v1h-1ZM554,413h1v1h-1ZM555,412h1v1h-1ZM556,412h1v1h-1ZM557,412h1v1h-1ZM558,411h1v1h-1ZM559,411h1v1h-1ZM560,411h1v1h-1ZM561,410h1v1h-1ZM562,410h1v1h-1ZM563,410h1v1h-1ZM564,409h1v1h-1ZM565,409h1v1h-1ZM566,409h1v1h-1ZM567,408h1v1h-1ZM568,408h1v1h-1ZM569,408h1v1h-1ZM570,407h1v1h-1ZM571,407h1v1h-1ZM572,407h1v1h-1ZM573,406h1v1h-1ZM574,406h1v1h-1ZM575,406h1v1h-1ZM576,405h1v1h-1ZM577,405h1v1h-1ZM578,405h1v1h-1ZM579,404h1v1h-1ZM580,404h1v1h-1ZM581,404h1v1h-1ZM582,403h1v1h-1ZM583,403h1v1h-1ZM584,403h1v1h-1ZM585,403h1v1h-1ZM586,402h1v1h-1ZM587,402h1v1h-1ZM588,402h1v1h-1ZM589,401h1v1h-1ZM590,401h1v1h-1ZM591,401h1v1h-1ZM592,400h1v1h-1ZM593,400h1v1h-1ZM594,400h1v1h-1ZM595,399h1v1h-1ZM596,399h1v1h-1ZM597,399h1v1h-1ZM598,398h1v1h-1ZM599,398h1v1h-1ZM600,398h1v1h-1ZM601,397h1v1h-1ZM602,397h1v1h-1ZM603,397h1v1h-1ZM604,396h1v1h-1ZM605,396h1v1h-1ZM606,396h1v1h-1ZM607,395h1v1h-1ZM608,395h1v1h-1ZM609,395h1v1h-1ZM610,394h1v1h-1ZM611,394h1v1h-1ZM612,394h1v1h-1ZM613,393h1v1h-1ZM614,393h1v1h-1ZM615,393h1v1h-1ZM616,392h1v1h-1ZM617,392h1v1h-1ZM618,392h1v1h-1ZM619,391h1v1h-1ZM620,391h1v1h-1ZM621,391h1v1h-1ZM622,390h1v1h-1ZM623,390h1v1h-1ZM624,390h1v1h-1ZM625,389h1v1h-1ZM626,389h1v1h-1ZM627,389h1v1h-1ZM628,388h1v1h-1ZM629,388h1v1h-1ZM630,388h1v1h-1ZM631,387h1v1h-1ZM632,387h1v1h-1ZM633,387h1v1h-1ZM634,386h1v1h-1ZM635,386h1v1h-1ZM636,386h1v1h-1ZM637,386h1v1h-1ZM638,385h1v1h-1ZM639,385h1v1h-1ZM640,385h1v1h-1ZM641,384h1v1h-1ZM642,384h1v1h-1ZM643,384h1v1h-1ZM644,383h1v1h-1ZM645,383h1v1h-1ZM646,383h1v1h-1ZM647,382h1v1h-1ZM648,382h1v1h-1ZM649,382h1v1h-1ZM650,381h1v1h-1ZM651,381h1v1h-1ZM652,381h1v1h-1ZM653,380h1v1h-1ZM654,380h1v1h-1ZM655,380h1v1h-1ZM656,379h1v1h-1ZM657,379h1v1h-1ZM658,379h1v1h-1ZM659,378h1v1h-1ZM660,378h1v1h-1ZM661,378h1v1h-1ZM662,377h1v1h-1ZM663,377h1v1h-1ZM664,377h1v1h-1ZM665,376h1v1h-1ZM666,376h1v1h-1ZM667,376h1v1h-1ZM668,375h1v1h-1ZM669,375h1v1h-1ZM670,374h1v1h-1ZM671,374h1v1h-1ZM672,374h1v1h-1ZM673,373h1v1h-1ZM674,373h1v1h-1ZM675,373h1v1h-1ZM676,372h1v1h-1ZM677,372h1v1h-1ZM678,372h1v1h-1ZM679,371h1v1h-1ZM680,371h1v1h-1ZM681,370h1v1h-1ZM682,370h1v1h-1ZM683,370h1v1h-1ZM684,369h1v1h-1ZM685,369h1v1h-1ZM686,369h1v1h-1ZM687,368h1v1h-1ZM688,368h1v1h-1ZM689,368h1v1h-1ZM690,367h1v1h-1ZM691,367h1v1h-1ZM692,367h1v1h-1ZM693,366h1v1h-1ZM694,366h1v1h-1ZM695,365h1v1h-1ZM696,365h1v1h-1ZM697,365h1v1h-1ZM698,365h1v1h-1ZM699,364h1v1h-1ZM700,364h1v1h-1ZM701,364h1v1h-1ZM702,363h1v1h-1ZM703,363h1v1h-1ZM704,363h1v1h-1ZM705,363h1v1h-1ZM706,363h1v1h-1ZM707,362h1v1h-1ZM708,362h1v1h-1ZM709,362h1v1h-1ZM710,362h1v1h-1ZM711,362h1v1h-1ZM712,361h1v1h-1ZM713,361h1v1h-1ZM714,361h1v1h-1ZM715,361h1v1h-1ZM716,361h1v1h-1ZM717,360h1v1h-1ZM718,360h1v1h-1ZM719,360h1v1h-1ZM720,360h1v1h-1ZM721,360h1v1h-1ZM722,359h1v1h-1ZM723,359h1v1h-1ZM724,359h1v1h-1ZM725,359h1v1h-1ZM726,359h1v1h-1ZM727,358h1v1h-1ZM728,358h1v1h-1ZM729,358h1v1h-1ZM730,358h1v1h-1ZM731,358h1v1h-1ZM732,357h1v1h-1ZM733,357h1v1h-1ZM734,357h1v1h-1ZM735,357h1v1h-1ZM736,356h1v1h-1ZM737,356h1v1h-1ZM738,356h1v1h-1ZM739,356h1v1h-1ZM740,356h1v1h-1ZM741,355h1v1h-1ZM742,355h1v1h-1ZM743,355h1v1h-1ZM744,355h1v1h-1ZM745,354h1v1h-1ZM746,354h1v1h-1ZM747,354h1v1h-1ZM748,354h1v1h-1ZM749,354h1v1h-1ZM750,353h1v1h-1ZM751,353h1v1h-1ZM752,353h1v1h-1ZM753,353h1v1h-1ZM754,353h1v1h-1ZM755,352h1v1h-1ZM756,352h1v1h-1ZM757,352h1v1h-1ZM758,352h1v1h-1ZM759,352h1v1h-1ZM760,351h1v1h-1ZM761,351h1v1h-1ZM762,351h1v1h-1ZM763,351h1v1h-1ZM764,351h1v1h-1ZM765,350h1v1h-1ZM766,350h1v1h-1ZM767,350h1v1h-1ZM768,350h1v1h-1ZM769,350h1v1h-1ZM770,350h1v1h-1ZM771,349h1v1h-1ZM772,349h1v1h-1ZM773,349h1v1h-1ZM774,349h1v1h-1ZM775,349h1v1h-1ZM776,349h1v1h-1Z" fill="#ffff33" shape-rendering="crispEdges"/>
<path d="M50,680 L57,680.0 L57,678.0 L97,678.0 L97,676.0 L107,676.0 L107,673.0 L113,673.0 L113,666.0 L115,666.0 L115,661.0 L117,661.0 L117,658.0 L123,658.0 L123,652.0 L145,652.0 L145,650.0 L153,650.0 L153,644.0 L161,644.0 L161,631.0 L175,631.0 L175,611.0 L731,611.0 L731,605.0 L737,605.0 L737,600.0 L743,600.0 L743,591.5 L745,591.5 L745,589.5 L749,589.5 L749,587.0 L757,587.0 L757,586.0 L765,586.0 L765,583.5 L775,583.5 L775,582.5 L777,582.5 L777,680 Z" fill="#006600" shape-rendering="crispEdges"/>
<g stroke="#444" stroke-width="1" stroke-dasharray="3 3" fill="none" shape-rendering="crispEdges"><path d="M111.5,29V680"/><path d="M167.5,32V680"/><path d="M229.5,29V680"/><path d="M289.5,32V680"/><path d="M351.5,29V680"/><path d="M411.5,32V680"/><path d="M473.5,29V680"/><path d="M535.5,32V680"/><path d="M595.5,29V680"/><path d="M657.5,32V680"/><path d="M717.5,29V680"/><path d="M50,50.5H777" stroke-dashoffset="2"/><path d="M50,90.5H777" stroke-dashoffset="0"/><path d="M50,130.5H777" stroke-dashoffset="4"/><path d="M50,170.5H777" stroke-dashoffset="2"/><path d="M50,210.5H777" stroke-dashoffset="0"/><path d="M50,250.5H777" stroke-dashoffset="4"/><path d="M50,290.5H777" stroke-dashoffset="2"/><path d="M50,330.5H777" stroke-dashoffset="0"/><path d="M50,355.5H777" stroke-dashoffset="4"/><path d="M50,380.5H777" stroke-dashoffset="2"/><path d="M50,405.5H777" stroke-dashoffset="0"/><path d="M50,430.5H777" stroke-dashoffset="4"/><path d="M50,455.5H777" stroke-dashoffset="2"/><path d="M50,480.5H777" stroke-dashoffset="0"/><path d="M50,505.5H777" stroke-dashoffset="4"/><path d="M50,530.5H777" stroke-dashoffset="2"/><path d="M50,555.5H777" stroke-dashoffset="0"/><path d="M50,605.5H777" stroke-dashoffset="4"/><path d="M50,630.5H777" stroke-dashoffset="2"/><path d="M50,655.5H777" stroke-dashoffset="0"/></g>
<path d="M50.5,30.5H777.5V680.5H50.5Z M50,330.5H777 M50,580.5H777" stroke="#000" stroke-width="1" fill="none" shape-rendering="crispEdges"/>
<rect x="50" y="705" width="41" height="6" fill="#ccccff"/>
<rect x="200" y="705" width="41" height="6" fill="#ffcccc"/>
<rect x="350" y="705" width="41" height="6" fill="#ccffcc"/>
<rect x="500" y="705" width="41" height="6" fill="#aaa552"/>
<rect x="650" y="705" width="41" height="6" fill="#006600"/>
<g transform="translate(74.4,54.2)">
<circle r="22" fill="#fff"/><rect x="-23.4" y="-6" width="44" height="12" fill="#fff"/>
<circle r="18.6" fill="none" stroke="#a8a0dc" stroke-width="1.8" stroke-dasharray="1.1 0.7"/>
<circle r="16.6" fill="#6a58bb"/>
<path d="M-12.8,-9.8 A16.6,16.6 0 0 1 12.8,-9.8 C10,-6 5,1 0.5,2.4 C-4,1.5 -9.5,-5.5 -12.8,-9.8Z" fill="#22009c"/>
<path d="M-16.4,-3.6 C-12,-2.5 -7,2.5 -3,6 L-5.5,9.2 C-1,8.6 5,6 9,4.2 L6,4.3 C9.5,0.5 13,-4 15.6,-6.6 L12.8,-9.8 C10,-6 5,1 0.5,2.4 C-4,1.5 -9.5,-5.5 -12.8,-9.8 C-14,-8 -15.6,-5.5 -16.4,-3.6Z" fill="#fff"/>
<text x="0" y="0" font-size="6.3" font-weight="bold" fill="#fff" text-anchor="middle" transform="translate(0,-5.8) scale(0.74,1)">NOAA</text>
</g>
<g><text x="0" y="0" font-size="12.5" text-anchor="end" fill="#000" transform="translate(43.2,56.6) scale(1.1,1)" >110</text>
<text x="0" y="0" font-size="12.5" text-anchor="start" fill="#000" transform="translate(782.4,56.6) scale(1.1,1)" >110</text>
<text x="0" y="0" font-size="12.5" text-anchor="end" fill="#000" transform="translate(43.2,96.6) scale(1.1,1)" >90</text>
<text x="0" y="0" font-size="12.5" text-anchor="start" fill="#000" transform="translate(782.4,96.6) scale(1.1,1)" >90</text>
<text x="0" y="0" font-size="12.5" text-anchor="end" fill="#000" transform="translate(43.2,136.6) scale(1.1,1)" >70</text>
<text x="0" y="0" font-size="12.5" text-anchor="start" fill="#000" transform="translate(782.4,136.6) scale(1.1,1)" >70</text>
<text x="0" y="0" font-size="12.5" text-anchor="end" fill="#000" transform="translate(43.2,176.6) scale(1.1,1)" >50</text>
<text x="0" y="0" font-size="12.5" text-anchor="start" fill="#000" transform="translate(782.4,176.6) scale(1.1,1)" >50</text>
<text x="0" y="0" font-size="12.5" text-anchor="end" fill="#000" transform="translate(43.2,216.6) scale(1.1,1)" >30</text>
<text x="0" y="0" font-size="12.5" text-anchor="start" fill="#000" transform="translate(782.4,216.6) scale(1.1,1)" >30</text>
<text x="0" y="0" font-size="12.5" text-anchor="end" fill="#000" transform="translate(43.2,256.6) scale(1.1,1)" >10</text>
<text x="0" y="0" font-size="12.5" text-anchor="start" fill="#000" transform="translate(782.4,256.6) scale(1.1,1)" >10</text>
<text x="0" y="0" font-size="12.5" text-anchor="end" fill="#000" transform="translate(43.2,296.6) scale(1.1,1)" >-10</text>
<text x="0" y="0" font-size="12.5" text-anchor="start" fill="#000" transform="translate(782.4,296.6) scale(1.1,1)" >-10</text>
<text x="0" y="0" font-size="12.5" text-anchor="end" fill="#000" transform="translate(43.2,336.6) scale(1.1,1)" >-30</text>
<text x="0" y="0" font-size="12.5" text-anchor="start" fill="#000" transform="translate(782.4,336.6) scale(1.1,1)" >-30</text>
<text x="0" y="0" font-size="12.5" text-anchor="end" fill="#000" transform="translate(43.2,561.6) scale(1.1,1)" >4</text>
<text x="0" y="0" font-size="12.5" text-anchor="start" fill="#000" transform="translate(782.4,561.6) scale(1.1,1)" >4</text>
<text x="0" y="0" font-size="12.5" text-anchor="end" fill="#000" transform="translate(43.2,536.6) scale(1.1,1)" >8</text>
<text x="0" y="0" font-size="12.5" text-anchor="start" fill="#000" transform="translate(782.4,536.6) scale(1.1,1)" >8</text>
<text x="0" y="0" font-size="12.5" text-anchor="end" fill="#000" transform="translate(43.2,511.6) scale(1.1,1)" >12</text>
<text x="0" y="0" font-size="12.5" text-anchor="start" fill="#000" transform="translate(782.4,511.6) scale(1.1,1)" >12</text>
<text x="0" y="0" font-size="12.5" text-anchor="end" fill="#000" transform="translate(43.2,486.6) scale(1.1,1)" >16</text>
<text x="0" y="0" font-size="12.5" text-anchor="start" fill="#000" transform="translate(782.4,486.6) scale(1.1,1)" >16</text>
<text x="0" y="0" font-size="12.5" text-anchor="end" fill="#000" transform="translate(43.2,461.6) scale(1.1,1)" >20</text>
<text x="0" y="0" font-size="12.5" text-anchor="start" fill="#000" transform="translate(782.4,461.6) scale(1.1,1)" >20</text>
<text x="0" y="0" font-size="12.5" text-anchor="end" fill="#000" transform="translate(43.2,436.6) scale(1.1,1)" >24</text>
<text x="0" y="0" font-size="12.5" text-anchor="start" fill="#000" transform="translate(782.4,436.6) scale(1.1,1)" >24</text>
<text x="0" y="0" font-size="12.5" text-anchor="end" fill="#000" transform="translate(43.2,411.6) scale(1.1,1)" >28</text>
<text x="0" y="0" font-size="12.5" text-anchor="start" fill="#000" transform="translate(782.4,411.6) scale(1.1,1)" >28</text>
<text x="0" y="0" font-size="12.5" text-anchor="end" fill="#000" transform="translate(43.2,386.6) scale(1.1,1)" >32</text>
<text x="0" y="0" font-size="12.5" text-anchor="start" fill="#000" transform="translate(782.4,386.6) scale(1.1,1)" >32</text>
<text x="0" y="0" font-size="12.5" text-anchor="end" fill="#000" transform="translate(43.2,361.6) scale(1.1,1)" >36</text>
<text x="0" y="0" font-size="12.5" text-anchor="start" fill="#000" transform="translate(782.4,361.6) scale(1.1,1)" >36</text>
<text x="0" y="0" font-size="12.5" text-anchor="end" fill="#000" transform="translate(43.2,661.6) scale(1.1,1)" >9</text>
<text x="0" y="0" font-size="12.5" text-anchor="start" fill="#000" transform="translate(782.4,661.6) scale(1.1,1)" >9</text>
<text x="0" y="0" font-size="12.5" text-anchor="end" fill="#000" transform="translate(43.2,636.6) scale(1.1,1)" >18</text>
<text x="0" y="0" font-size="12.5" text-anchor="start" fill="#000" transform="translate(782.4,636.6) scale(1.1,1)" >18</text>
<text x="0" y="0" font-size="12.5" text-anchor="end" fill="#000" transform="translate(43.2,611.6) scale(1.1,1)" >27</text>
<text x="0" y="0" font-size="12.5" text-anchor="start" fill="#000" transform="translate(782.4,611.6) scale(1.1,1)" >27</text>
<text x="0" y="0" font-size="13" text-anchor="start" fill="#000" transform="translate(50,692.8) scale(1.16,1)" >Jan</text>
<text x="0" y="0" font-size="13" text-anchor="start" fill="#000" transform="translate(112,692.8) scale(1.16,1)" >Feb</text>
<text x="0" y="0" font-size="13" text-anchor="start" fill="#000" transform="translate(168,692.8) scale(1.16,1)" >Mar</text>
<text x="0" y="0" font-size="13" text-anchor="start" fill="#000" transform="translate(230,692.8) scale(1.16,1)" >Apr</text>
<text x="0" y="0" font-size="13" text-anchor="start" fill="#000" transform="translate(290,692.8) scale(1.16,1)" >May</text>
<text x="0" y="0" font-size="13" text-anchor="start" fill="#000" transform="translate(352,692.8) scale(1.16,1)" >Jun</text>
<text x="0" y="0" font-size="13" text-anchor="start" fill="#000" transform="translate(412,692.8) scale(1.16,1)" >Jul</text>
<text x="0" y="0" font-size="13" text-anchor="start" fill="#000" transform="translate(474,692.8) scale(1.16,1)" >Aug</text>
<text x="0" y="0" font-size="13" text-anchor="start" fill="#000" transform="translate(536,692.8) scale(1.16,1)" >Sep</text>
<text x="0" y="0" font-size="13" text-anchor="start" fill="#000" transform="translate(596,692.8) scale(1.16,1)" >Oct</text>
<text x="0" y="0" font-size="13" text-anchor="start" fill="#000" transform="translate(658,692.8) scale(1.16,1)" >Nov</text>
<text x="0" y="0" font-size="13" text-anchor="start" fill="#000" transform="translate(718,692.8) scale(1.16,1)" >Dec</text>
<text x="0" y="0" font-size="12" text-anchor="start" fill="#000" transform="translate(93,709.9) scale(1.147,1)" >Record Min</text>
<text x="0" y="0" font-size="12" text-anchor="start" fill="#000" transform="translate(243,709.9) scale(1.16,1)" >Record Max</text>
<text x="0" y="0" font-size="12" text-anchor="start" fill="#000" transform="translate(393,709.9) scale(1.21,1)" >Normal</text>
<text x="0" y="0" font-size="12" text-anchor="start" fill="#000" transform="translate(543,709.9) scale(1.216,1)" >Below Normal</text>
<text x="0" y="0" font-size="12" text-anchor="start" fill="#000" transform="translate(693,709.9) scale(1.2,1)" >Above Normal</text>
<text x="0" y="0" font-size="17" text-anchor="start" fill="#000" transform="translate(27.2,268.2) rotate(-90) scale(1.048,1)" word-spacing="2.1">Temperature (Deg F)</text>
<text x="0" y="0" font-size="17" text-anchor="start" fill="#000" transform="translate(27.2,544) rotate(-90) scale(1.066,1)" word-spacing="4.1">Precipitation (Inches)</text>
<text x="0" y="0" font-size="17" text-anchor="start" fill="#000" transform="translate(27.6,690) rotate(-90) scale(1.04,1)" word-spacing="3">Snow (inches)</text>
<text x="0" y="0" font-size="17" text-anchor="start" fill="#000" transform="translate(286.5,24.7) scale(1.05,1)" word-spacing="3" letter-spacing="0.83">WEST CHICAGO, IL - 2013</text>
<text x="0" y="0" font-size="16.5" text-anchor="start" fill="#111" transform="translate(716.3,358.6) scale(1.05,1)" >35.09</text>
<text x="0" y="0" font-size="16.5" text-anchor="start" fill="#111" transform="translate(720.8,594.8) scale(1.1,1)" >35.2</text></g>
</svg></body></html>
